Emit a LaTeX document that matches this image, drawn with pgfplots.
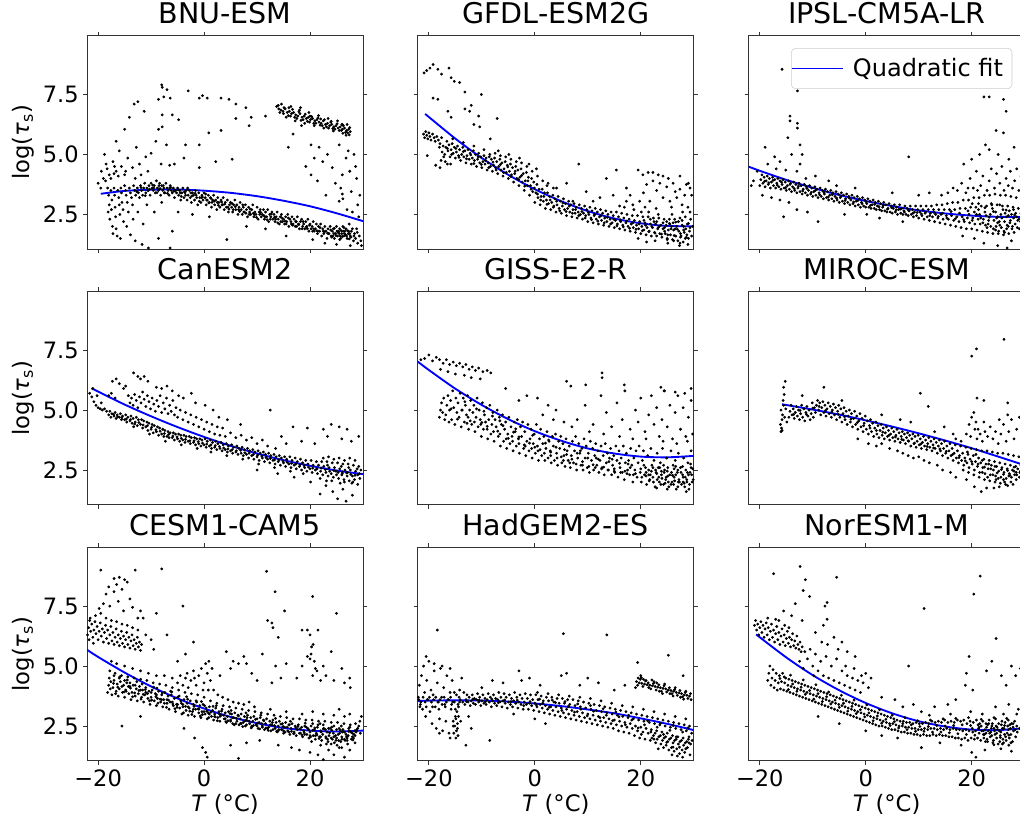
\documentclass[border=0pt]{standalone}
\usepackage{fontspec}
\setmainfont{DejaVu Sans}
\usepackage{pgfplots}
\pgfplotsset{compat=1.18}

\pgfplotsset{
  panel/.style={
    scale only axis, width=207pt, height=160.1pt,
    xmin=-22.1, xmax=30, ymin=1.05, ymax=9.95,
    xtick={-20,0,20}, ytick={2.5,5,7.5},
    xticklabels={}, yticklabels={},
    tick align=outside, major tick length=3pt,
    axis line style={black!80, line width=0.6pt},
    every tick/.style={black!80, line width=0.6pt},
    title style={at={(axis description cs:0.5,1)}, anchor=base, yshift=3pt,
      font=\fontsize{21.4}{25}\selectfont},
    tick label style={font=\fontsize{16.9}{20}\selectfont},
    yticklabel style={inner sep=3pt},
    xticklabel style={inner sep=3.5pt},
    ylabel style={font=\fontsize{17}{20}\selectfont},
    xlabel style={at={(axis description cs:0.5,0)}, anchor=base, yshift=-38pt,
      font=\fontsize{17}{20}\selectfont},
  },
  dots/.style={only marks, mark=*, mark size=0.85pt, mark options={draw=none, fill=black}, forget plot},
  fit/.style={blue, line width=1.4pt, smooth, no markers},
  leftcol/.style={yticklabels={2.5,5.0,7.5}, ylabel={log(\textit{τ}\textsubscript{s})}},
  bottomrow/.style={xticklabels={−20,0,20}, xlabel={\textit{T} (°C)}},
}

\begin{document}
\begin{tikzpicture}

% ---------------- row 1 ----------------
\begin{axis}[panel, leftcol, at={(65.25pt,-26.8pt)}, anchor=north west, title={BNU-ESM}]
\addplot[dots] coordinates {
(-18.2,3.6)(-18.0,3.3)(-17.9,2.9)(-18.1,2.6)(-17.8,2.3)(-17.6,3.5)(-17.4,3.1)(-17.5,2.7)(-17.3,2.0)(-17.2,1.7)(-17.0,3.6)(-16.9,3.3)(-16.8,2.8)(-16.7,2.4)(-16.6,1.9)(-16.4,1.6)(-16.3,3.5)(-16.1,3.2)(-16.0,2.9)(-15.9,2.5)(-15.7,3.6)(-15.6,3.4)(-15.5,3.0)(-15.3,2.7)(-15.2,2.2)(-15.0,3.7)(-14.8,3.5)(-14.7,3.3)(-14.5,3.0)(-14.3,2.6)(-14.1,3.6)(-13.9,3.4)(-13.7,3.2)(-13.5,2.9)(-13.3,3.7)(-13.1,3.5)(-12.9,3.3)(-12.6,3.6)(-12.4,3.4)(-12.2,3.2)(-12.0,3.7)(-11.8,3.5)(-11.6,3.3)(-11.4,3.6)(-11.2,3.8)(-11.0,3.4)(-10.8,3.6)(-10.6,3.5)(-10.4,3.7)(-10.2,3.3)(-10.0,3.8)(-9.8,3.6)(-9.6,3.5)(-9.4,3.7)(-9.2,3.4)(-9.0,3.9)(-8.8,3.6)(-8.6,3.5)(-8.4,3.8)(-8.2,3.3)(-8.0,3.7)(-7.8,3.5)(-7.6,3.6)(-7.4,3.4)(-7.2,3.8)(-7.0,3.6)(-6.8,3.5)(-6.6,3.3)(-6.4,3.7)(-6.2,3.5)(-6.0,3.4)(-5.8,3.6)(-5.6,3.2)(-5.4,3.5)(-5.2,3.4)(-5.0,3.6)(-4.8,3.3)(-4.6,3.5)(-4.4,3.1)(-4.2,3.4)(-4.0,3.6)(-3.8,3.2)(-3.6,3.4)(-3.4,3.5)(-3.2,3.1)(-3.0,3.3)(-2.8,3.5)(-2.6,3.2)(-2.4,3.0)(-2.2,3.4)(-2.0,3.3)(-1.8,3.1)(-1.6,3.5)(-1.4,3.2)(-1.2,2.9)(-1.0,3.4)(-0.8,3.2)(-0.6,3.0)(-0.4,3.3)(-0.2,3.1)(0.0,3.4)(0.2,3.2)(0.4,2.9)(0.6,3.1)(0.8,3.3)(1.0,3.0)(1.2,3.2)(1.4,2.8)(1.6,3.1)(1.8,3.3)(2.0,2.9)(2.2,3.1)(2.4,2.7)(2.6,3.2)(2.8,3.0)(3.0,2.8)(3.2,3.1)(3.4,2.9)(3.6,3.2)(3.8,2.7)(4.0,3.0)(4.2,2.8)(4.4,3.1)(4.6,2.6)(4.8,2.9)(5.0,3.0)(5.2,2.8)(5.4,2.6)(5.6,2.9)(5.8,3.1)(6.0,2.7)(6.2,2.9)(6.4,2.5)(6.6,2.8)(6.8,3.0)(7.0,2.7)(7.2,2.5)(7.4,2.8)(7.6,2.6)(7.8,2.9)(8.0,2.7)(8.2,2.4)(8.4,2.8)(8.6,2.6)(8.8,2.5)(9.0,2.7)(9.2,2.9)(9.4,2.4)(9.6,2.6)(9.8,2.5)(10.0,2.8)(10.2,2.3)(10.4,2.6)(10.6,2.7)(10.8,2.4)(11.0,2.5)(11.2,2.7)(11.4,2.3)(11.6,2.6)(11.8,2.4)(12.0,2.7)(12.2,2.2)(12.4,2.5)(12.6,2.4)(12.8,2.6)(13.0,2.3)(13.2,2.5)(13.4,2.2)(13.6,2.4)(13.8,2.6)(14.0,2.3)(14.2,2.1)(14.4,2.4)(14.6,2.5)(14.8,2.2)(15.0,2.3)(15.2,2.1)(15.4,2.4)(15.6,2.2)(15.8,2.5)(16.0,2.0)(16.2,2.3)(16.4,2.2)(16.6,2.4)(16.8,2.1)(17.0,2.3)(17.2,2.0)(17.4,2.2)(17.6,2.4)(17.8,2.1)(18.0,1.9)(18.2,2.2)(18.4,2.3)(18.6,2.0)(18.8,2.1)(19.0,1.9)(19.2,2.2)(19.4,2.0)(19.6,2.3)(19.8,1.8)(20.0,2.1)(20.2,1.9)(20.4,2.0)(20.6,2.2)(20.8,1.8)(21.0,1.9)(21.2,2.1)(21.4,1.7)(21.6,2.0)(21.8,1.8)(22.0,2.1)(22.2,1.6)(22.4,1.9)(22.6,1.7)(22.8,2.0)(23.0,1.8)(23.2,1.5)(23.4,1.9)(23.6,1.7)(23.8,2.0)(24.0,1.6)(24.2,1.8)(24.4,1.9)(24.6,1.5)(24.8,1.7)(25.0,2.0)(25.2,1.6)(25.4,1.8)(25.6,1.9)(25.8,1.5)(26.0,1.7)(26.2,2.0)(26.4,1.6)(26.6,1.8)(26.8,1.9)(27.0,1.5)(27.2,1.7)(27.4,2.1)(27.6,1.6)(27.8,1.8)(28.0,1.9)(28.2,1.4)(28.4,1.7)(28.6,1.5)(28.8,1.9)(29.0,1.3)(29.3,1.6)(29.6,1.4)
(-10.5,3.5)(-9.5,3.6)(-8.5,3.7)(-7.5,3.4)(-6.5,3.6)(-5.5,3.5)(-4.5,3.4)(-3.5,3.3)(-2.5,3.4)(-1.5,3.3)(-0.5,3.2)(0.5,3.1)(1.5,3.0)(2.5,3.0)(3.5,2.9)(4.5,2.8)(5.5,2.7)(6.5,2.7)(7.5,2.6)(8.5,2.5)(9.5,2.5)(10.5,2.5)(11.5,2.4)(12.5,2.3)(13.5,2.3)(14.5,2.2)(15.5,2.1)(16.5,2.1)(17.5,2.0)(18.5,1.9)(19.5,1.9)(20.5,1.8)(21.5,1.8)(22.5,1.8)(23.5,1.7)(24.5,1.7)(25.5,1.7)(26.5,1.7)(27.5,1.7)(24.3,1.6)(25.7,1.6)(26.3,1.8)(27.3,1.8)(25.1,1.8)(26.9,1.6)
(-12.7,3.45)(-11.9,3.62)(-11.1,3.28)(-10.3,3.55)(-9.7,3.72)(-8.9,3.41)(-8.3,3.58)(-7.7,3.7)(-6.9,3.38)(-6.3,3.63)(-5.7,3.47)(-4.9,3.52)(-4.3,3.25)(-3.7,3.44)(-3.1,3.6)(-2.3,3.27)(-1.7,3.38)(-0.9,3.05)(-0.3,3.22)(0.3,3.35)(0.9,2.98)(1.3,3.17)(1.9,3.05)(2.7,2.88)(3.3,3.02)(3.9,2.93)(4.7,2.72)(5.3,2.95)(5.9,2.82)(6.7,2.62)(7.3,2.9)(7.9,2.55)(8.7,2.72)(9.3,2.55)(9.9,2.38)(10.7,2.58)(11.3,2.45)(11.9,2.28)(12.7,2.52)(13.3,2.38)(13.9,2.15)(14.7,2.35)(15.3,2.22)(15.9,2.35)(16.7,2.05)(17.3,2.2)(17.9,2.08)(18.7,2.2)(19.3,1.98)(19.9,2.05)(20.7,1.9)(21.3,1.82)(21.9,1.95)(22.7,1.78)(23.3,1.72)(23.9,1.85)(24.1,1.55)(24.9,1.62)(25.3,1.75)(25.9,1.82)(26.1,1.58)(26.7,1.65)(27.1,1.82)(27.7,1.55)(28.3,1.6)(28.9,1.75)(24.6,1.92)(25.6,1.45)(26.4,1.95)(27.4,1.48)
(13.7,7.0)(14.1,6.9)(14.5,6.85)(14.9,6.8)(15.3,6.9)(15.7,6.75)(16.1,6.8)(16.5,6.7)(16.9,6.75)(17.3,6.65)(17.7,6.6)(18.1,6.7)(18.5,6.55)(18.9,6.6)(19.3,6.5)(19.7,6.55)(20.1,6.45)(20.5,6.5)(20.9,6.4)(21.3,6.45)(21.7,6.35)(22.1,6.3)(22.5,6.4)(22.9,6.25)(23.3,6.3)(23.7,6.2)(24.1,6.25)(24.5,6.15)(24.9,6.2)(25.3,6.1)(25.7,6.15)(26.1,6.05)(26.5,6.1)(26.9,6.0)(27.3,6.05)(27.6,5.95)(15.0,6.7)(16.3,6.6)(17.5,6.5)(18.7,6.45)(19.9,6.35)(21.1,6.3)(22.3,6.2)(23.5,6.1)(24.7,6.05)(25.9,6.0)(27.1,5.9)
(14.3,6.75)(15.1,6.95)(15.9,6.62)(16.7,6.88)(17.1,6.55)(17.9,6.78)(18.3,6.42)(19.1,6.68)(19.5,6.38)(20.3,6.58)(20.7,6.3)(21.5,6.52)(21.9,6.22)(22.7,6.45)(23.1,6.15)(23.9,6.35)(24.3,6.08)(25.1,6.28)(25.5,6.0)(26.3,6.2)(26.7,5.92)(27.5,6.12)(14.0,7.05)(16.0,6.95)(18.0,6.85)(20.0,6.6)(22.0,6.48)(24.0,6.38)(26.0,6.25)
(14.6,7.1)(15.5,6.55)(16.4,7.0)(17.2,6.4)(18.2,6.95)(19.0,6.3)(19.8,6.75)(20.8,6.2)(21.6,6.62)(22.6,6.1)(23.4,6.5)(24.4,5.98)(25.2,6.4)(26.2,5.88)(27.0,6.25)(27.4,5.82)
(-8.0,7.9)(-7.9,7.8)(-7.0,7.7)(-8.6,7.3)(-7.6,7.4)(-6.4,7.35)(-4.8,6.45)(-7.9,6.65)(-6.0,6.65)(-7.9,6.15)(-8.6,6.05)(-9.1,5.55)(-7.1,5.4)(-10.0,5.05)(-8.1,4.6)(-6.5,4.55)(-5.6,4.6)(-3.0,7.65)(-0.9,7.35)(0.6,7.35)(-0.3,7.45)(3.2,7.35)(4.7,7.3)(6.0,7.1)(7.9,6.95)(8.9,6.55)(8.5,6.2)(6.0,6.5)(3.2,6.0)(0.9,5.9)(-0.9,5.4)(-3.5,5.4)(-3.8,4.85)(-0.9,4.45)(2.2,4.7)(5.3,4.8)(11.6,6.6)(15.9,5.3)(16.8,5.85)(18.4,6.2)(20.2,5.4)(20.8,4.85)(21.7,5.3)(19.2,4.5)(20.2,4.15)(21.4,3.9)(22.4,4.7)(23.3,5.0)(24.2,4.45)(25.5,5.4)(26.1,4.15)(26.8,4.85)(25.8,3.6)(26.1,3.35)(25.5,3.05)(26.2,3.15)(27.8,3.45)(28.8,4.0)(29.0,2.9)(27.2,5.15)(26.8,5.8)(26.1,6.25)(28.3,5.0)(28.6,4.5)(27.5,4.3)(24.8,3.8)(23.0,3.3)(29.4,3.3)(28.0,2.6)(29.2,2.4)(27.0,2.7)
(-18.8,5.0)(-18.5,4.6)(-17.9,4.15)(-17.2,4.7)(-16.6,4.3)(-15.6,4.5)(-15.0,4.15)(-16.0,5.15)(-15.0,6.05)(-14.1,6.55)(-13.2,7.1)(-12.5,7.2)(-11.3,6.8)(-16.6,5.55)(-14.4,4.85)(-13.5,4.45)(-12.2,4.6)(-11.9,4.15)(-19.4,4.3)(-19.0,4.0)(-18.3,4.4)(-17.6,4.0)(-16.9,4.5)(-19.5,3.6)(-18.6,3.9)(-20.0,3.8)(-17.0,4.2)(-16.2,4.1)(-14.8,4.3)(-13.0,4.0)(-12.8,5.3)(-11.0,4.9)(-10.6,4.3)
(-13.9,1.65)(-13.0,1.4)(-11.7,1.25)(-10.5,1.1)(-6.4,1.1)(-8.6,1.5)(-6.0,1.8)(4.3,1.45)(11.6,1.9)(-15.8,1.5)(-14.6,2.0)(-13.4,2.3)(-12.5,2.6)(-11.5,2.1)(-10.8,2.9)(-9.4,2.6)(-8.0,3.0)(-4.9,2.6)(-2.2,2.5)(1.0,2.4)(8.0,2.0)(15.5,1.6)(20.5,1.45)(22.8,1.3)(25.0,1.25)(27.6,1.2)(29.7,1.2)
};
\addplot[fit] coordinates {(-19.5,3.36)(-15,3.48)(-10,3.53)(-5,3.54)(0,3.49)(5,3.40)(10,3.26)(15,3.07)(20,2.84)(25,2.55)(30,2.22)};
\end{axis}

\begin{axis}[panel, at={(313.3pt,-26.8pt)}, anchor=north west, title={GFDL-ESM2G}]
\addplot[dots] coordinates {
(-17.0,5.0)(-16.8,5.3)(-16.6,5.55)(-16.4,5.15)(-16.2,5.4)(-16.0,4.9)(-15.8,5.2)(-15.6,5.45)(-15.4,5.05)(-15.2,5.3)(-15.0,4.85)(-14.8,5.1)(-14.6,5.35)(-14.4,4.95)(-14.2,5.2)(-14.0,4.75)(-13.8,5.0)(-13.6,5.3)(-13.4,4.9)(-13.2,5.15)(-13.0,4.65)(-12.8,4.95)(-12.6,5.2)(-12.4,4.8)(-12.2,5.05)(-12.0,4.6)(-11.8,4.85)(-11.6,5.15)(-11.4,4.75)(-11.2,5.0)(-11.0,4.5)(-10.8,4.8)(-10.6,5.05)(-10.4,4.65)(-10.2,4.9)(-10.0,4.45)(-9.8,4.7)(-9.6,4.95)(-9.4,4.6)(-9.2,4.85)(-9.0,4.35)(-8.8,4.65)(-8.6,4.9)(-8.4,4.5)(-8.2,4.8)(-8.0,4.3)(-7.8,4.55)(-7.6,4.85)(-7.4,4.45)(-7.2,4.7)(-7.0,4.2)(-6.8,4.5)(-6.6,4.8)(-6.4,4.35)(-6.2,4.65)(-6.0,4.1)(-5.8,4.4)(-5.6,4.7)(-5.4,4.25)(-5.2,4.55)(-5.0,4.0)(-4.8,4.3)(-4.6,4.6)(-4.4,4.15)(-4.2,4.45)(-4.0,3.85)(-3.8,4.2)(-3.6,4.5)(-3.4,4.0)(-3.2,4.35)(-3.0,3.7)(-2.8,4.05)(-2.6,4.4)(-2.4,3.85)(-2.2,4.2)(-2.0,3.5)(-1.8,3.9)(-1.6,4.25)(-1.4,3.7)(-1.2,4.05)(-1.0,3.3)(-0.8,3.7)(-0.6,4.0)(-0.4,3.45)(-0.2,3.85)(0.0,3.0)(0.2,3.4)(0.4,3.75)(0.6,3.2)(0.8,3.55)(1.0,2.9)(1.2,3.25)(1.4,3.55)(1.6,3.05)(1.8,3.4)(2.0,2.75)(2.2,3.1)(2.4,3.4)(2.6,2.95)(2.8,3.25)(3.0,2.7)(3.2,3.0)(3.4,3.3)(3.6,2.85)(3.8,3.15)(4.0,2.6)(4.2,2.9)(4.4,3.25)(4.6,2.75)(4.8,3.05)(5.0,2.55)(5.2,2.85)(5.4,3.15)(5.6,2.7)(5.8,2.95)(6.0,2.45)(6.2,2.75)(6.4,3.05)(6.6,2.6)(6.8,2.9)(7.0,2.4)(7.2,2.7)(7.4,2.95)(7.6,2.55)(7.8,2.8)(8.0,2.35)(8.2,2.6)(8.4,2.9)(8.6,2.5)(8.8,2.75)(9.0,2.3)(9.2,2.55)(9.4,2.85)(9.6,2.45)(9.8,2.7)(10.0,2.2)(10.2,2.5)(10.4,2.8)(10.6,2.35)(10.8,2.65)(11.0,2.15)(11.2,2.45)(11.4,2.75)(11.6,2.3)(11.8,2.6)(12.0,2.1)(12.2,2.4)(12.4,2.7)(12.6,2.25)(12.8,2.55)(13.0,2.05)(13.2,2.35)(13.4,2.65)(13.6,2.2)(13.8,2.5)(14.0,2.0)(14.2,2.3)(14.4,2.6)(14.6,2.15)(14.8,2.45)(15.0,1.95)(15.2,2.25)(15.4,2.6)(15.6,2.1)(15.8,2.4)(16.0,1.9)(16.2,2.2)(16.4,2.55)(16.6,2.05)(16.8,2.35)(17.0,1.85)(17.2,2.15)(17.4,2.5)(17.6,2.0)(17.8,2.3)(18.0,1.8)(18.2,2.1)(18.4,2.45)(18.6,1.95)(18.8,2.25)(19.0,1.75)(19.2,2.05)(19.4,2.45)(19.6,1.9)(19.8,2.2)(20.0,1.7)(20.2,2.0)(20.4,2.4)(20.6,1.85)(20.8,2.15)(21.0,1.65)(21.2,1.95)(21.4,2.4)(21.6,1.8)(21.8,2.1)(22.0,1.6)(22.2,1.95)(22.4,2.35)(22.6,1.75)(22.8,2.1)(23.0,1.6)(23.2,1.9)(23.4,2.35)(23.6,1.7)(23.8,2.05)(24.0,1.55)(24.2,1.9)(24.4,2.3)(24.6,1.7)(24.8,2.05)(25.0,1.5)(25.2,1.85)(25.4,2.3)(25.6,1.65)(25.8,2.0)(26.0,1.45)(26.2,1.85)(26.4,2.3)(26.6,1.6)(26.8,2.0)(27.0,1.4)(27.2,1.8)(27.4,2.35)(27.6,1.6)(27.8,2.05)(28.0,1.35)(28.2,1.75)(28.4,2.4)(28.6,1.55)(28.8,2.1)(29.0,1.5)(29.2,1.8)(29.4,2.3)(29.6,1.6)(29.8,2.0)
(-16.5,5.25)(-15.7,5.0)(-14.9,5.25)(-14.3,4.88)(-13.5,5.12)(-12.9,4.82)(-12.1,4.98)(-11.5,4.62)(-10.7,4.9)(-10.1,4.58)(-9.3,4.75)(-8.7,4.45)(-7.9,4.68)(-7.3,4.35)(-6.5,4.58)(-5.9,4.25)(-5.1,4.48)(-4.5,4.08)(-3.7,4.3)(-3.1,3.95)(-2.5,4.12)(-1.9,3.68)(-1.3,3.9)(-0.7,3.55)(-0.1,3.6)(0.5,3.35)(1.1,3.1)(1.7,3.25)(2.3,2.92)(2.9,3.1)(3.5,2.8)(4.1,3.05)(4.7,2.65)(5.3,2.98)(5.9,2.62)(6.5,2.85)(7.1,2.55)(7.7,2.7)(8.3,2.45)(8.9,2.62)(9.5,2.35)(10.1,2.58)(10.7,2.28)(11.3,2.5)(11.9,2.22)(12.5,2.45)(13.1,2.15)(13.7,2.38)(14.3,2.1)(14.9,2.3)(15.5,2.02)(16.1,2.28)(16.7,1.98)(17.3,2.22)(17.9,1.92)(18.5,2.15)(19.1,1.88)(19.7,2.1)(20.3,1.82)(20.9,2.05)(21.5,1.78)(22.1,2.0)(22.7,1.72)(23.3,1.95)(23.9,1.68)(24.5,1.95)(25.1,1.65)(25.7,1.9)(26.3,1.62)(26.9,1.88)(27.5,1.55)(28.1,1.85)(28.7,1.65)(29.3,1.95)(24.2,2.15)(25.4,2.12)(26.6,2.18)(27.8,2.25)(29.0,2.12)(23.0,2.2)(21.8,2.3)(20.6,2.25)(25.0,1.45)(26.2,1.4)(27.4,1.3)(28.4,1.5)
(22.5,2.2)(23.5,2.0)(24.5,1.8)(25.5,2.1)(26.5,1.9)(27.5,1.7)(28.5,1.9)(26.1,2.15)(27.1,2.2)(28.1,2.0)(24.9,2.2)(23.3,2.5)(25.9,2.5)(27.9,2.6)(21.5,2.6)(20.1,2.6)(18.7,2.7)(16.9,2.8)(29.3,2.6)(25.1,1.3)(27.3,1.2)(28.9,1.25)(22.7,1.4)(21.1,1.35)(19.5,1.5)
(-21.0,5.85)(-20.8,5.7)(-20.6,5.95)(-20.4,5.8)(-20.2,5.65)(-20.0,5.9)(-19.8,5.75)(-19.6,5.6)(-19.3,5.85)(-19.0,5.7)(-18.8,5.55)(-18.5,5.75)(-18.2,5.6)(-17.9,5.45)(-17.6,5.7)(-17.3,5.35)(-18.0,5.3)(-17.5,5.1)(-17.2,4.9)(-17.7,4.75)(-16.5,4.6)(-20.3,4.95)(-18.7,4.55)(-17.9,4.45)(-16.9,4.7)(-15.9,4.6)
(-8.5,5.0)(-7.5,5.05)(-6.5,4.95)(-5.5,4.9)(-4.5,4.8)(-3.5,4.7)(-2.5,4.65)(-1.5,4.5)(-0.5,4.3)(0.5,4.1)(1.5,3.9)(-6.9,5.15)(-4.9,5.0)(-2.9,4.85)(-1.1,4.6)(0.3,4.4)(2.3,3.7)(3.5,3.6)(-9.6,5.2)(-11.5,5.35)(-13.5,5.5)(-15.5,5.65)
(-20.4,8.5)(-19.2,8.75)(-18.3,8.55)(-17.6,8.35)(-16.2,8.6)(-15.8,8.2)(-15.2,8.05)(-14.2,8.0)(-13.2,7.6)(-10.1,7.5)(-19.2,7.35)(-18.3,7.3)(-16.4,6.8)(-15.8,6.55)(-13.2,6.9)(-12.0,7.05)(-12.3,6.8)(-10.6,6.6)(-11.5,6.25)(-10.4,6.15)(-7.1,6.5)(-8.4,5.65)(-20.9,8.4)(-19.8,8.6)(8.3,4.6)(13.5,4.0)(15.4,4.35)(17.3,3.6)(19.5,4.35)(20.4,4.15)(21.4,4.25)(22.3,4.25)(23.3,4.15)(24.2,4.1)(25.2,4.0)(22.3,3.9)(21.1,3.75)(23.6,3.8)(24.9,3.65)(26.1,3.8)(27.4,3.55)(28.6,3.75)(29.3,3.6)(28.3,3.3)(26.8,3.2)(25.5,3.05)(24.2,3.2)(21.7,3.05)(19.8,3.05)(18.5,2.9)(17.3,3.05)(16.0,2.85)(14.8,3.3)(12.3,3.2)(11.0,3.05)(9.7,3.45)(6.0,3.8)(4.1,3.6)(2.5,3.8)(7.2,3.05)(27.4,4.1)(29.0,3.8)(29.6,3.3)(26.5,3.45)(23.0,3.5)(20.5,3.4)(18.0,3.3)(27.8,2.9)(25.8,2.8)(22.9,2.75)(20.8,2.8)(28.9,2.8)
};
\addplot[fit] coordinates {(-20.7,6.69)(-15,5.66)(-10,4.85)(-5,4.15)(0,3.55)(5,3.05)(10,2.64)(15,2.33)(20,2.13)(25,2.02)(30,2.01)};
\end{axis}

\begin{axis}[panel, at={(561.5pt,-26.8pt)}, anchor=north west, title={IPSL-CM5A-LR},
  legend style={at={(0.955,0.942)}, anchor=north east, draw=black!20, rounded corners=3pt,
    fill=white, fill opacity=0.8, text opacity=1, font=\fontsize{18}{21}\selectfont,
    inner xsep=0pt, inner ysep=1pt, nodes={inner xsep=6.75pt, inner ysep=6.5pt}},
  legend image code/.code={\draw[#1] (0pt,0pt) -- (38pt,0pt);}]
\addplot[dots] coordinates {
(-20.0,3.7)(-19.8,3.95)(-19.6,4.15)(-19.4,3.8)(-19.2,4.05)(-19.0,3.65)(-18.8,3.9)(-18.6,4.1)(-18.4,3.75)(-18.2,4.0)(-18.0,3.6)(-17.8,3.85)(-17.6,4.05)(-17.4,3.7)(-17.2,3.95)(-17.0,3.6)(-16.8,3.8)(-16.6,4.0)(-16.4,3.65)(-16.2,3.9)(-16.0,3.55)(-15.8,3.75)(-15.6,3.95)(-15.4,3.6)(-15.2,3.85)(-15.0,3.5)(-14.8,3.7)(-14.6,3.9)(-14.4,3.55)(-14.2,3.8)(-14.0,3.45)(-13.8,3.65)(-13.6,3.85)(-13.4,3.5)(-13.2,3.75)(-13.0,3.4)(-12.8,3.6)(-12.6,3.8)(-12.4,3.45)(-12.2,3.7)(-12.0,3.35)(-11.8,3.55)(-11.6,3.75)(-11.4,3.4)(-11.2,3.65)(-11.0,3.3)(-10.8,3.5)(-10.6,3.7)(-10.4,3.35)(-10.2,3.6)(-10.0,3.25)(-9.8,3.45)(-9.6,3.65)(-9.4,3.3)(-9.2,3.55)(-9.0,3.2)(-8.8,3.4)(-8.6,3.6)(-8.4,3.25)(-8.2,3.5)(-8.0,3.15)(-7.8,3.35)(-7.6,3.55)(-7.4,3.2)(-7.2,3.45)(-7.0,3.1)(-6.8,3.3)(-6.6,3.5)(-6.4,3.15)(-6.2,3.4)(-6.0,3.05)(-5.8,3.25)(-5.6,3.45)(-5.4,3.1)(-5.2,3.35)(-5.0,3.0)(-4.8,3.2)(-4.6,3.4)(-4.4,3.05)(-4.2,3.3)(-4.0,2.95)(-3.8,3.15)(-3.6,3.35)(-3.4,3.0)(-3.2,3.25)(-3.0,2.9)(-2.8,3.1)(-2.6,3.3)(-2.4,2.95)(-2.2,3.2)(-2.0,2.85)(-1.8,3.05)(-1.6,3.25)(-1.4,2.9)(-1.2,3.15)(-1.0,2.8)(-0.8,3.0)(-0.6,3.2)(-0.4,2.85)(-0.2,3.1)(0.0,2.8)(0.2,2.95)(0.4,3.15)(0.6,2.8)(0.8,3.05)(1.0,2.75)(1.2,2.9)(1.4,3.1)(1.6,2.75)(1.8,3.0)(2.0,2.7)(2.2,2.85)(2.4,3.05)(2.6,2.7)(2.8,2.95)(3.0,2.65)(3.2,2.8)(3.4,3.0)(3.6,2.65)(3.8,2.9)(4.0,2.6)(4.2,2.75)(4.4,2.95)(4.6,2.6)(4.8,2.85)(5.0,2.55)(5.2,2.75)(5.4,2.9)(5.6,2.6)(5.8,2.8)(6.0,2.5)(6.2,2.7)(6.4,2.9)(6.6,2.55)(6.8,2.75)(7.0,2.5)(7.2,2.65)(7.4,2.85)(7.6,2.5)(7.8,2.75)(8.0,2.45)(8.2,2.65)(8.4,2.85)(8.6,2.5)(8.8,2.7)(9.0,2.4)(9.2,2.6)(9.4,2.85)(9.6,2.45)(9.8,2.7)(10.0,2.35)(10.2,2.6)(10.4,2.85)(10.6,2.45)(10.8,2.7)(11.0,2.3)(11.2,2.55)(11.4,2.85)(11.6,2.4)(11.8,2.7)(12.0,2.25)(12.2,2.55)(12.4,2.85)(12.6,2.4)(12.8,2.7)(13.0,2.2)(13.2,2.5)(13.4,2.9)(13.6,2.35)(13.8,2.7)(14.0,2.15)(14.2,2.5)(14.4,2.9)(14.6,2.3)(14.8,2.7)(15.0,2.1)(15.2,2.45)(15.4,2.95)(15.6,2.3)(15.8,2.7)(16.0,2.05)(16.2,2.45)(16.4,3.0)(16.6,2.25)(16.8,2.7)(17.0,2.0)(17.2,2.4)(17.4,3.0)(17.6,2.2)(17.8,2.75)(18.0,1.95)(18.2,2.4)(18.4,3.1)(18.6,2.2)(18.8,2.75)(19.0,1.9)(19.2,2.35)(19.4,3.1)(19.6,2.15)(19.8,2.8)(20.0,1.9)(20.2,2.35)(20.4,3.2)(20.6,2.1)(20.8,2.8)(21.0,1.85)(21.2,2.3)(21.4,3.2)(21.6,2.1)(21.8,2.85)(22.0,1.8)(22.2,2.3)(22.4,3.3)(22.6,2.05)(22.8,2.85)(23.0,1.75)(23.2,2.25)(23.4,3.3)(23.6,2.0)(23.8,2.9)(24.0,1.7)(24.2,2.25)(24.4,3.35)(24.6,2.0)(24.8,2.9)(25.0,1.7)(25.2,2.2)(25.4,3.3)(25.6,1.95)(25.8,2.85)(26.0,1.65)(26.2,2.2)(26.4,3.3)(26.6,1.9)(26.8,2.85)(27.0,1.7)(27.2,2.15)(27.4,3.25)(27.6,1.9)(27.8,2.8)(28.0,1.75)(28.2,2.1)(28.4,3.2)(28.6,1.95)(28.8,2.75)(29.0,1.9)(29.2,2.2)(29.4,3.0)(29.6,2.0)(29.8,2.6)
(-19.1,3.88)(-18.3,3.82)(-17.5,3.92)(-16.7,3.72)(-15.9,3.85)(-15.1,3.62)(-14.3,3.75)(-13.5,3.58)(-12.7,3.68)(-11.9,3.48)(-11.1,3.58)(-10.3,3.42)(-9.5,3.5)(-8.7,3.32)(-7.9,3.42)(-7.1,3.22)(-6.3,3.32)(-5.5,3.18)(-4.7,3.25)(-3.9,3.08)(-3.1,3.18)(-2.3,3.02)(-1.5,3.08)(-0.7,2.95)(0.1,3.02)(0.9,2.88)(1.7,2.92)(2.5,2.82)(3.3,2.88)(4.1,2.72)(4.9,2.78)(5.7,2.68)(6.5,2.72)(7.3,2.6)(8.1,2.66)(8.9,2.55)(9.7,2.58)(10.5,2.52)(11.3,2.6)(12.1,2.45)(12.9,2.58)(13.7,2.42)(14.5,2.55)(15.3,2.35)(16.1,2.62)(16.9,2.32)(17.7,2.55)(18.5,2.28)(19.3,2.65)(20.1,2.25)(20.9,2.5)(21.7,2.35)(22.5,2.78)(23.3,2.38)(24.1,2.62)(24.9,2.15)(25.7,2.35)(26.5,2.68)(27.3,2.25)(28.1,2.48)(28.9,2.3)(22.1,2.15)(23.7,2.95)(25.3,2.9)(26.9,2.0)(27.9,2.7)(29.3,2.55)(21.3,2.95)(24.5,1.85)(26.2,1.75)(22.9,1.95)
(19.5,2.5)(20.5,2.6)(21.5,2.5)(22.5,2.6)(23.5,2.5)(24.5,2.6)(25.5,2.5)(26.5,2.4)(27.5,2.5)(28.5,2.4)(20.1,2.95)(21.3,2.7)(22.7,2.45)(23.9,2.75)(24.9,2.4)(25.9,2.7)(26.3,2.55)(27.1,2.65)(27.9,2.35)(28.3,2.55)(23.1,2.1)(24.1,1.9)(25.3,2.05)(26.7,2.05)(27.7,2.0)(28.7,2.25)(26.1,1.8)(25.1,1.8)(24.7,2.35)(26.9,2.45)
(17.3,3.5)(18.1,3.8)(18.9,3.4)(19.7,4.0)(20.3,3.6)(20.9,4.3)(21.7,3.7)(22.1,4.1)(22.9,3.5)(23.3,3.9)(23.7,4.4)(24.3,3.6)(24.7,4.2)(25.3,3.8)(25.7,4.5)(26.1,3.5)(26.5,4.0)(26.9,3.7)(27.3,4.3)(27.7,3.6)(28.1,3.9)(28.5,4.4)(28.9,3.5)(29.3,4.1)(29.7,3.7)(21.1,3.5)(19.3,3.6)(16.5,3.6)(15.5,3.4)(14.3,3.3)
(22.3,1.3)(24.9,1.2)(26.7,1.1)(20.5,1.5)(18.3,1.6)(27.5,1.4)
(-15.8,8.55)(-12.9,7.65)(-14.3,6.6)(-14.3,6.4)(-12.9,6.3)(-12.9,6.1)(-14.7,5.7)(-12.4,5.4)(-12.0,5.0)(22.3,7.4)(23.3,7.4)(26.0,7.3)(26.5,6.8)(24.6,6.0)(26.0,5.9)(22.6,5.4)(23.3,5.2)(8.1,4.9)(-21.2,3.9)(-21.6,3.7)(-19.5,3.3)(-20.5,4.3)(-16.9,4.4)(-16.2,4.7)(-15.1,4.35)(-13.0,4.3)(-11.3,4.0)(-9.5,4.1)(-7.0,3.9)(-5.5,3.7)(-17.8,3.2)(-16.2,3.1)(-14.5,3.0)(-13.0,2.7)(-11.0,2.6)(-15.5,2.4)(-9.0,2.2)(-4.0,2.5)(0.2,2.5)(2.6,2.35)(7.0,2.2)(-12.4,4.6)(-14.0,5.0)(-18.5,4.6)(-17.2,4.9)(-19.0,5.3)(20.0,4.8)(21.5,5.0)(25.0,5.0)(27.0,4.8)(28.0,5.3)(18.5,4.6)(5.0,3.4)(10.0,3.3)(12.0,3.4)(-2.0,3.6)
};
\addplot[fit] coordinates {(-22.1,4.49)(-20,4.32)(-15,3.94)(-10,3.61)(-5,3.31)(0,3.06)(5,2.85)(10,2.67)(15,2.54)(20,2.45)(25,2.40)(30,2.39)};
\addlegendentry{Quadratic fit}
\end{axis}

% ---------------- row 2 ----------------
\begin{axis}[panel, leftcol, at={(65.25pt,-218.5pt)}, anchor=north west, title={CanESM2}]
\addplot[dots] coordinates {
(-21.6,5.7)(-21.2,5.55)(-20.8,5.35)(-20.4,5.2)(-20.0,5.1)(-19.6,5.05)(-19.2,5.0)(-18.8,5.05)(-18.4,4.95)(-21.0,5.9)(-20.2,5.6)(-19.4,5.3)
(-18.0,4.8)(-17.8,4.95)(-17.6,4.7)(-17.4,4.85)(-17.0,4.75)(-16.8,4.9)(-16.6,4.65)(-16.4,4.8)(-16.0,4.7)(-15.8,4.85)(-15.6,4.6)(-15.4,4.75)(-15.0,4.6)(-14.8,4.8)(-14.6,4.5)(-14.4,4.7)(-14.0,4.55)(-13.8,4.75)(-13.6,4.45)(-13.4,4.65)(-13.0,4.5)(-12.8,4.7)(-12.6,4.35)(-12.4,4.6)(-12.0,4.4)(-11.8,4.6)(-11.6,4.25)(-11.4,4.55)(-11.0,4.3)(-10.8,4.5)(-10.6,4.15)(-10.4,4.45)(-10.0,4.2)(-9.8,4.4)(-9.6,4.05)(-9.4,4.35)(-9.0,4.1)(-8.8,4.3)(-8.6,3.95)(-8.4,4.25)(-8.0,4.0)(-7.8,4.2)(-7.6,3.9)(-7.4,4.15)(-7.0,3.9)(-6.8,4.1)(-6.6,3.85)(-6.4,4.05)(-6.0,3.85)(-5.8,4.05)(-5.6,3.75)(-5.4,4.0)(-5.0,3.8)(-4.8,4.0)(-4.6,3.7)(-4.4,3.95)(-4.0,3.75)(-3.8,3.95)(-3.6,3.65)(-3.4,3.9)(-3.0,3.7)(-2.8,3.9)(-2.6,3.6)(-2.4,3.85)(-2.0,3.65)(-1.8,3.85)(-1.6,3.55)(-1.4,3.8)(-1.0,3.6)(-0.8,3.8)(-0.6,3.5)(-0.4,3.75)(0.0,3.55)(0.2,3.8)(0.4,3.45)(0.6,3.7)(1.0,3.5)(1.2,3.75)(1.4,3.4)(1.6,3.65)(2.0,3.45)(2.2,3.7)(2.4,3.35)(2.6,3.6)(3.0,3.4)(3.2,3.65)(3.4,3.3)(3.6,3.55)(4.0,3.35)(4.2,3.6)(4.4,3.25)(4.6,3.5)(5.0,3.3)(5.2,3.55)(5.4,3.2)(5.6,3.45)(6.0,3.25)(6.2,3.5)(6.4,3.15)(6.6,3.4)(7.0,3.2)(7.2,3.45)(7.4,3.1)(7.6,3.35)(8.0,3.15)(8.2,3.4)(8.4,3.0)(8.6,3.3)(9.0,3.1)(9.2,3.35)(9.4,2.95)(9.6,3.25)(10.0,3.05)(10.2,3.3)(10.4,2.9)(10.6,3.2)(11.0,3.0)(11.2,3.25)(11.4,2.85)(11.6,3.15)(12.0,2.95)(12.2,3.2)(12.4,2.8)(12.6,3.1)(13.0,2.9)(13.2,3.15)(13.4,2.75)(13.6,3.05)(14.0,2.85)(14.2,3.1)(14.4,2.7)(14.6,3.0)(15.0,2.8)(15.2,3.05)(15.4,2.65)(15.6,2.95)(16.0,2.75)(16.2,3.05)(16.4,2.6)(16.6,2.9)(17.0,2.7)(17.2,3.0)(17.4,2.55)(17.6,2.85)(18.0,2.65)(18.2,2.95)(18.4,2.5)(18.6,2.8)(19.0,2.6)(19.2,2.9)(19.4,2.45)(19.6,2.75)(20.0,2.55)(20.2,2.9)(20.4,2.4)(20.6,2.7)(21.0,2.5)(21.2,2.85)(21.4,2.35)(21.6,2.7)(22.0,2.45)(22.2,2.85)(22.4,2.3)(22.6,2.65)(23.0,2.4)(23.2,2.85)(23.4,2.25)(23.6,2.6)(24.0,2.35)(24.2,2.8)(24.4,2.2)(24.6,2.6)(25.0,2.3)(25.2,2.8)(25.4,2.15)(25.6,2.55)(26.0,2.3)(26.2,2.75)(26.4,2.1)(26.6,2.5)(27.0,2.25)(27.2,2.75)(27.4,2.05)(27.6,2.5)(28.0,2.25)(28.2,2.7)(28.4,2.1)(28.6,2.45)(29.0,2.3)(29.2,2.65)(29.4,2.15)(29.6,2.5)
(-17.1,4.82)(-16.3,4.72)(-15.5,4.68)(-14.7,4.62)(-13.9,4.6)(-13.1,4.42)(-12.3,4.48)(-11.5,4.38)(-10.7,4.35)(-9.9,4.28)(-9.1,4.18)(-8.3,4.12)(-7.5,4.02)(-6.7,3.98)(-5.9,3.92)(-5.1,3.88)(-4.3,3.82)(-3.5,3.78)(-2.7,3.72)(-1.9,3.72)(-1.1,3.68)(-0.3,3.62)(0.5,3.58)(1.3,3.55)(2.1,3.52)(2.9,3.48)(3.7,3.42)(4.5,3.38)(5.3,3.35)(6.1,3.3)(6.9,3.32)(7.7,3.22)(8.5,3.2)(9.3,3.15)(10.1,3.12)(10.9,3.08)(11.7,3.02)(12.5,2.98)(13.3,2.92)(14.1,2.92)(14.9,2.88)(15.7,2.82)(16.5,2.78)(17.3,2.75)(18.1,2.72)(18.9,2.68)(19.7,2.62)(20.5,2.58)(21.3,2.55)(22.1,2.58)(22.9,2.52)(23.7,2.45)(24.5,2.48)(25.3,2.4)(26.1,2.42)(26.9,2.38)(27.7,2.32)(28.5,2.28)(29.3,2.35)(23.3,2.7)(25.9,2.65)(27.3,2.6)(28.9,2.55)(24.1,2.05)(26.5,2.0)(27.9,1.95)
(22.5,3.0)(23.5,3.05)(24.5,2.95)(25.5,3.0)(26.5,2.9)(27.5,3.0)(28.5,2.9)(24.9,2.45)(26.1,2.35)(27.1,2.4)(28.1,2.0)(25.7,1.95)(23.1,2.05)(21.9,2.15)(18.7,2.35)(16.3,2.45)(13.3,2.6)(10.3,2.75)(7.3,2.95)(4.3,3.1)(1.3,3.25)(-1.3,3.4)(-4.3,3.55)(-7.3,3.7)(-10.3,4.0)(-13.3,4.3)
(-14.3,5.6)(-14.0,5.3)(-13.7,5.5)(-13.4,5.2)(-13.1,5.65)(-12.8,5.4)(-12.5,5.1)(-12.2,5.55)(-11.9,5.3)(-11.6,5.75)(-11.3,5.45)(-11.0,5.15)(-10.7,5.6)(-10.4,5.35)(-10.1,5.05)(-9.8,5.5)(-9.5,5.25)(-9.2,4.95)(-8.9,5.4)(-8.6,5.15)(-8.3,5.6)(-8.0,4.9)(-7.7,5.3)(-7.4,5.05)(-7.1,5.5)(-6.8,4.85)(-6.5,5.2)(-6.2,4.95)(-5.9,5.4)(-5.6,4.8)(-5.3,5.1)(-5.0,4.7)(-4.5,5.0)(-4.0,4.6)(-3.5,4.9)(-3.0,4.5)(-2.5,4.8)(-2.0,4.4)(-1.5,4.7)(-1.0,4.3)(-0.5,4.6)(0.0,4.2)(0.5,4.5)(1.0,4.1)(1.5,4.4)(2.0,4.0)(2.5,4.3)(3.0,3.95)(3.5,4.25)(4.0,3.9)(5.0,4.05)(6.0,3.85)(7.0,3.95)(8.0,3.75)(9.0,3.85)(10.0,3.6)(11.0,3.75)(12.0,3.5)
(-17.3,6.2)(-16.6,6.3)(-16.0,6.1)(-15.2,5.9)(-14.8,6.0)(-13.3,6.55)(-12.5,6.4)(-12.0,6.3)(-11.3,6.4)(-10.6,6.2)(-9.0,5.95)(-8.0,5.9)(-7.0,6.0)(-6.0,5.8)(-4.8,5.6)(-3.9,5.5)(-2.4,5.7)(-1.6,5.3)(0.2,5.2)(1.7,5.0)(2.8,4.7)(4.4,4.6)(6.9,4.4)(12.5,5.0)(16.8,4.3)(19.5,4.25)(22.5,4.2)(24.0,4.4)(25.5,4.3)(27.0,4.2)(27.8,3.7)(29.2,3.9)(23.3,3.9)(26.0,3.8)(20.9,3.6)(18.4,3.7)(14.6,3.9)(15.5,3.6)(13.5,3.4)(-17.5,5.7)(-16.8,5.5)(-18.0,5.6)
(21.9,1.5)(24.3,1.6)(25.2,1.3)(26.8,1.2)(28.0,1.45)(23.0,1.85)(26.2,1.7)(29.0,1.9)(20.1,2.0)(17.0,2.2)(13.9,2.35)(10.0,2.5)
};
\addplot[fit] coordinates {(-21.25,5.91)(-20,5.77)(-15,5.23)(-10,4.74)(-5,4.29)(0,3.88)(5,3.51)(10,3.19)(15,2.91)(20,2.68)(25,2.48)(30,2.33)};
\end{axis}

\begin{axis}[panel, at={(313.3pt,-218.5pt)}, anchor=north west, title={GISS-E2-R}]
\addplot[dots] coordinates {
(-21.5,7.1)(-20.8,7.15)(-20.0,7.3)(-19.3,7.05)(-18.6,7.2)(-18.0,7.1)(-17.3,6.95)(-16.7,7.1)(-16.1,6.9)(-15.4,7.0)(-14.8,6.85)(-14.2,6.95)(-13.6,6.8)(-13.0,6.9)(-12.4,6.7)(-11.8,6.8)(-11.2,6.65)(-10.6,6.75)(-9.8,6.6)(-9.0,6.65)(-8.3,6.55)(-17.8,6.7)(-16.4,6.6)(-15.0,6.5)(-13.3,6.45)(-12.0,6.35)(-10.3,6.3)
(-18.0,4.7)(-17.8,5.0)(-17.6,5.3)(-17.4,4.9)(-17.2,5.5)(-17.0,4.6)(-16.8,4.8)(-16.6,5.2)(-16.4,5.6)(-16.2,4.5)(-16.1,5.0)(-15.9,5.4)(-15.7,4.6)(-15.5,5.8)(-15.3,5.1)(-15.1,4.4)(-14.9,5.5)(-14.7,4.9)(-14.5,5.3)(-14.3,4.7)(-14.1,5.7)(-13.9,4.3)(-13.7,5.0)(-13.5,5.5)(-13.3,4.5)(-13.1,5.2)(-12.9,4.8)(-12.7,5.6)(-12.5,4.2)(-12.3,5.0)(-12.1,5.4)(-11.9,4.4)(-11.7,4.9)(-11.5,5.2)(-11.3,4.1)(-11.1,4.7)(-10.9,5.5)(-10.7,4.3)(-10.5,5.0)(-10.3,4.6)(-10.1,3.9)(-9.9,5.3)(-9.7,4.2)(-9.5,4.8)(-9.3,4.5)(-9.1,5.1)(-8.9,3.8)(-8.7,4.6)(-8.5,5.2)(-8.3,4.0)(-8.1,4.4)(-7.9,4.9)(-7.7,3.7)(-7.5,4.6)(-7.3,4.3)(-7.1,5.0)(-6.9,3.9)(-6.7,4.7)(-6.5,3.5)(-6.3,4.4)(-6.1,4.8)(-5.9,3.7)(-5.7,4.2)(-5.5,4.5)(-5.3,3.4)(-5.1,4.0)(-4.9,4.7)(-4.7,3.6)(-4.5,4.3)(-4.3,3.9)(-4.1,3.3)(-3.9,4.5)(-3.7,4.1)(-3.5,3.5)(-3.3,4.6)(-3.1,3.8)(-2.9,3.2)(-2.7,4.3)(-2.5,3.9)(-2.3,4.5)(-2.1,3.4)(-1.9,4.1)(-1.7,3.1)(-1.5,3.7)(-1.3,4.4)(-1.1,3.3)(-0.9,3.8)(-0.7,4.2)(-0.5,3.0)(-0.3,3.6)(-0.1,4.0)(0.1,3.2)(0.3,4.4)(0.5,3.5)(0.7,2.9)(0.9,3.8)(1.1,4.2)(1.3,3.1)(1.5,3.6)(1.7,3.9)(1.9,2.9)(2.1,3.4)(2.3,4.1)(2.5,3.0)(2.7,3.7)(2.9,3.3)(3.1,2.8)(3.3,3.9)(3.5,3.5)(3.7,2.9)(3.9,4.0)(4.1,3.2)(4.3,2.7)(4.5,3.7)(4.7,3.4)(4.9,3.9)(5.1,2.8)(5.3,3.6)(5.5,3.1)(5.7,2.65)(5.9,3.8)(6.1,3.3)(6.3,2.9)(6.5,3.5)(6.7,2.6)(6.9,3.1)(7.1,3.7)(7.3,2.8)(7.5,3.3)(7.7,3.9)(7.9,2.5)(8.1,3.0)(8.3,3.6)(8.5,3.2)(8.7,2.7)(8.9,3.4)(9.1,2.5)(9.3,3.8)(9.5,3.0)(9.7,3.5)(9.9,2.6)(10.1,3.2)(10.3,2.4)(10.5,3.7)(10.7,2.9)(10.9,3.4)(11.1,2.5)(11.3,3.1)(11.5,3.6)(11.7,2.7)(11.9,3.3)(12.1,2.4)(12.3,2.9)(12.5,3.5)(12.7,2.6)(12.9,3.1)(13.1,2.3)(13.3,3.6)(13.5,2.8)(13.7,3.2)(13.9,2.5)(14.1,3.0)(14.3,3.4)(14.5,2.3)(14.7,2.7)(14.9,3.1)(15.1,2.4)(15.3,3.5)(15.5,2.9)(15.7,2.2)(15.9,3.3)(16.1,2.6)(16.3,3.0)(16.5,2.4)(16.7,3.5)(16.9,2.1)(17.1,2.8)(17.3,3.2)(17.5,2.5)(17.7,2.9)(17.9,2.3)(18.1,3.4)(18.3,2.7)(18.5,2.0)(18.7,3.0)(18.9,2.5)(19.1,3.3)(19.3,2.2)(19.5,2.8)(19.7,3.5)(19.9,2.4)(20.1,2.0)(20.3,2.9)(20.5,3.3)(20.7,2.3)(20.9,2.6)(21.1,1.9)(21.3,3.1)(21.5,2.5)(21.7,2.1)(21.9,3.4)(22.1,2.7)(22.3,2.2)(22.5,2.9)(22.7,1.8)(22.9,2.4)(23.1,3.2)(23.3,2.6)(23.5,2.0)(23.7,2.8)(23.9,2.3)(24.1,3.4)(24.3,1.9)(24.5,2.5)(24.7,2.1)(24.9,3.0)(25.1,2.6)(25.3,1.8)(25.5,2.3)(25.7,3.3)(25.9,2.0)(26.1,2.7)(26.3,2.2)(26.5,2.9)(26.7,1.7)(26.9,2.4)(27.1,3.2)(27.3,2.0)(27.5,2.6)(27.7,1.9)(27.9,2.3)(28.1,3.0)(28.3,1.8)(28.5,2.5)(28.7,2.1)(28.9,2.8)(29.1,1.7)(29.3,2.4)(29.5,3.3)(29.7,2.0)
(-15.8,5.05)(-14.6,4.62)(-13.2,5.35)(-12.2,4.55)(-11.0,5.05)(-10.0,4.48)(-9.0,4.32)(-8.0,4.75)(-7.0,4.12)(-6.0,4.35)(-5.0,3.82)(-4.0,4.08)(-3.0,3.88)(-2.0,3.55)(-1.0,3.62)(0.0,3.45)(1.0,3.35)(2.0,3.62)(3.0,3.25)(4.0,3.45)(5.0,3.05)(6.0,3.15)(7.0,2.95)(8.0,3.2)(9.0,2.85)(10.0,3.0)(11.0,2.72)(12.0,2.95)(13.0,2.62)(14.0,2.85)(15.0,2.55)(16.0,2.78)(17.0,2.45)(18.0,2.6)(19.0,2.35)(20.0,2.55)(21.0,2.25)(22.0,2.45)(23.0,2.35)(24.0,2.15)(25.0,2.45)(26.0,2.28)(27.0,2.5)(28.0,2.2)(29.0,2.3)(29.8,2.55)(24.6,1.95)(26.4,2.05)(28.2,1.95)(21.6,2.05)(-12.8,4.45)(-9.6,4.95)(-6.6,4.55)(-3.6,4.22)(-0.4,3.95)(2.6,3.75)(5.6,3.35)(8.6,3.3)(11.6,3.0)(14.6,2.95)(17.6,2.75)(20.6,2.7)(23.6,2.6)(26.6,2.65)(29.4,2.75)
(22.3,2.6)(23.1,2.1)(24.3,2.7)(25.1,2.25)(26.3,2.55)(27.1,2.0)(27.9,2.65)(28.7,2.0)(29.5,2.6)(25.7,1.9)(23.9,2.45)(21.5,2.3)
(20.2,2.2)(21.0,2.4)(21.8,2.3)(22.4,2.0)(22.8,2.5)(23.4,2.2)(23.8,1.9)(24.4,2.4)(24.8,2.2)(25.2,2.0)(25.8,2.4)(26.2,1.9)(26.6,2.3)(27.2,2.1)(27.6,2.4)(28.0,2.0)(28.4,2.2)(28.8,2.4)(29.2,1.9)(29.6,2.3)(29.9,2.1)(27.0,1.8)(25.0,1.7)(23.0,1.75)(28.6,1.6)
(-13.8,5.0)(-12.6,4.7)(-11.4,4.5)(-10.2,4.4)(-9.0,4.2)(-7.8,4.1)(-6.6,4.0)(-5.4,3.8)(-4.2,3.7)(-3.0,3.6)(-1.8,3.5)(-0.6,3.4)(0.6,3.3)(1.8,3.2)(3.0,3.1)(4.2,3.0)(5.4,2.9)(6.6,2.8)(7.8,2.75)(9.0,2.7)(10.2,2.65)(11.4,2.6)(12.6,2.55)(13.8,2.5)(15.0,2.45)(16.2,2.4)(17.4,2.35)(18.6,2.3)
(6.0,6.2)(6.8,6.0)(4.0,5.0)(2.5,5.2)(0.5,5.5)(-1.5,5.6)(-5.5,5.9)(-3.0,5.4)(1.5,4.8)(3.5,4.6)(5.5,4.5)(8.0,4.6)(9.5,5.2)(11.0,4.4)(12.5,5.6)(13.5,4.9)(14.5,4.3)(15.5,5.3)(16.5,4.6)(17.0,5.8)(18.0,4.2)(19.0,5.0)(19.5,4.5)(20.0,5.5)(20.8,4.1)(21.5,4.8)(22.0,5.6)(22.5,4.4)(23.0,5.1)(23.5,3.9)(24.0,4.6)(24.5,5.8)(25.0,4.3)(25.5,5.2)(26.0,3.8)(26.5,4.9)(27.0,5.6)(27.5,4.2)(28.0,5.1)(28.5,3.9)(29.0,4.7)(29.5,5.4)(29.8,4.0)(10.3,4.1)(7.0,4.3)(18.5,3.8)(21.0,3.8)(24.2,3.7)(26.8,3.6)(28.8,3.7)(16.0,3.9)(13.0,4.0)
(12.7,6.55)(12.7,6.35)(9.6,6.05)(16.9,6.05)(23.8,5.95)(24.4,5.8)(26.5,5.75)(28.3,5.7)(29.5,5.9)
};
\addplot[fit] coordinates {(-22.1,7.02)(-20,6.67)(-15,5.89)(-10,5.21)(-5,4.62)(0,4.12)(5,3.72)(10,3.40)(15,3.19)(20,3.06)(25,3.03)(30,3.09)};
\end{axis}

\begin{axis}[panel, at={(561.5pt,-218.5pt)}, anchor=north west, title={MIROC-ESM}]
\addplot[dots] coordinates {
(-16.0,4.1)(-15.9,4.25)(-16.1,4.4)(-15.8,4.6)(-15.7,4.8)(-16.0,5.0)(-15.5,5.2)(-15.6,5.4)(-15.4,5.65)(-15.5,5.95)(-15.2,6.2)(-15.8,4.15)(-15.3,4.7)(-15.1,5.05)(-14.9,4.5)
(-14.5,4.7)(-14.3,4.95)(-14.1,5.2)(-13.9,4.8)(-13.7,5.05)(-13.5,4.65)(-13.3,4.9)(-13.1,5.15)(-12.9,4.75)(-12.7,5.0)(-12.5,4.6)(-12.3,4.85)(-12.1,5.2)(-11.9,4.7)(-11.7,5.05)(-11.5,4.55)(-11.3,4.9)(-11.1,5.15)(-10.9,4.75)(-10.7,5.0)(-10.5,4.6)(-10.3,4.85)(-10.1,5.3)(-9.9,4.7)(-9.7,5.1)(-9.5,4.9)(-9.3,5.2)(-9.1,5.4)(-8.9,5.0)(-8.7,5.3)(-8.5,4.8)(-8.3,5.1)(-8.1,5.35)(-7.9,4.9)(-7.7,5.2)(-7.5,4.75)(-7.3,5.05)(-7.1,5.3)(-6.9,4.85)(-6.7,5.15)(-6.5,4.7)(-6.3,5.0)(-6.1,5.25)(-5.9,4.8)(-5.7,5.1)(-5.5,4.6)(-5.3,4.95)(-5.1,5.2)(-4.9,4.7)(-4.7,5.05)(-4.5,4.5)(-4.3,4.85)(-4.1,5.1)(-3.9,4.6)(-3.7,4.95)(-3.5,4.4)(-3.3,4.75)(-3.1,5.0)(-2.9,4.5)(-2.7,4.85)(-2.5,4.3)(-2.3,4.65)(-2.1,4.95)(-1.9,4.4)(-1.7,4.75)(-1.5,4.2)(-1.3,4.55)(-1.1,4.85)(-0.9,4.3)(-0.7,4.65)(-0.5,4.1)(-0.3,4.45)(-0.1,4.75)(0.1,4.2)(0.3,4.55)(0.5,4.0)(0.7,4.35)(0.9,4.6)(1.1,4.1)(1.3,4.45)(1.5,3.9)(1.7,4.25)(1.9,4.5)(2.1,4.0)(2.3,4.35)(2.5,3.85)(2.7,4.15)(2.9,4.4)(3.1,3.95)(3.3,4.25)(3.5,3.8)(3.7,4.05)(3.9,4.3)(4.1,3.9)(4.3,4.15)(4.5,3.75)(4.7,4.0)(4.9,4.25)(5.1,3.85)(5.3,4.1)(5.5,3.7)(5.7,3.95)(5.9,4.2)(6.1,3.8)(6.3,4.05)(6.5,3.65)(6.7,3.9)(6.9,4.1)(7.1,3.75)(7.3,4.0)(7.5,3.6)(7.7,3.85)(7.9,4.05)(8.1,3.7)(8.3,3.95)(8.5,3.5)(8.7,3.8)(8.9,4.0)(9.1,3.6)(9.3,3.9)(9.5,3.45)(9.7,3.7)(9.9,3.95)(10.1,3.55)(10.3,3.8)(10.5,3.4)(10.7,3.65)(10.9,3.9)(11.1,3.5)(11.3,3.75)(11.5,3.35)(11.7,3.6)(11.9,3.85)(12.1,3.45)(12.3,3.7)(12.5,3.3)(12.7,3.55)(12.9,3.8)(13.1,3.4)(13.3,3.65)(13.5,3.2)(13.7,3.5)(13.9,3.75)(14.1,3.3)(14.3,3.6)(14.5,3.1)(14.7,3.4)(14.9,3.7)(15.1,3.2)(15.3,3.5)(15.5,3.0)(15.7,3.3)(15.9,3.6)(16.1,3.1)(16.3,3.4)(16.5,2.9)(16.7,3.2)(16.9,3.55)(17.1,3.0)(17.3,3.3)(17.5,2.8)(17.7,3.1)(17.9,3.5)(18.1,2.9)(18.3,3.2)(18.5,2.7)(18.7,3.0)(18.9,3.45)(19.1,2.8)(19.3,3.15)(19.5,2.6)(19.7,2.95)(19.9,3.4)(20.1,2.75)(20.3,3.1)(20.5,2.5)(20.7,2.85)(20.9,3.35)(21.1,2.65)(21.3,3.0)(21.5,2.4)(21.7,2.8)(21.9,3.3)(22.1,2.6)(22.3,2.95)(22.5,2.35)(22.7,2.75)(22.9,3.3)(23.1,2.55)(23.3,2.9)(23.5,2.3)(23.7,2.7)(23.9,3.25)(24.1,2.5)(24.3,2.85)(24.5,2.25)(24.7,2.65)(24.9,3.2)(25.1,2.45)(25.3,2.8)(25.5,2.2)(25.7,2.6)(25.9,3.2)(26.1,2.4)(26.3,2.75)(26.5,2.15)(26.7,2.55)(26.9,3.15)(27.1,2.35)(27.3,2.7)(27.5,2.2)(27.7,2.5)(27.9,3.1)(28.1,2.3)(28.3,2.65)(28.5,2.3)(28.7,2.55)(28.9,3.05)(29.1,2.4)(29.3,2.7)
(-13.6,4.82)(-12.4,4.98)(-11.2,4.82)(-10.0,5.08)(-8.8,5.15)(-7.6,4.98)(-6.4,4.92)(-5.2,4.82)(-4.0,4.72)(-2.8,4.62)(-1.6,4.48)(-0.4,4.35)(0.8,4.25)(2.0,4.15)(3.2,4.08)(4.4,3.95)(5.6,3.88)(6.8,3.78)(8.0,3.72)(9.2,3.62)(10.4,3.58)(11.6,3.48)(12.8,3.42)(14.0,3.38)(15.2,3.28)(16.4,3.15)(17.6,3.02)(18.8,2.88)(20.0,2.85)(21.2,2.75)(22.4,2.62)(23.6,2.55)(24.8,2.38)(26.0,2.32)(27.2,2.28)(28.4,2.4)(29.6,2.2)(19.2,3.25)(20.8,3.15)(22.0,2.9)(23.2,2.75)(24.4,2.65)(25.6,2.52)(26.8,2.48)(28.0,2.62)(29.2,2.45)(24.6,2.1)(26.2,2.0)(27.8,1.9)
(18.4,2.5)(19.4,2.4)(20.4,2.3)(21.4,2.2)(22.4,2.1)(23.4,2.05)(24.4,2.0)(25.4,1.95)(26.4,1.9)(27.4,2.0)(28.4,2.1)(22.0,2.4)(23.0,2.2)(24.0,2.3)(25.0,2.15)(26.0,2.1)(27.0,2.25)(28.0,2.45)(29.0,2.2)(25.2,1.8)(24.2,1.75)(26.8,1.85)(29.6,2.5)(29.8,2.9)
(3.0,3.6)(4.5,3.4)(6.0,3.3)(7.0,3.2)(8.0,3.1)(9.0,3.0)(10.0,3.05)(11.0,2.9)(12.0,2.8)(13.5,2.7)(-1.5,3.8)(0.5,3.6)(2.0,3.5)(14.5,2.5)(16.0,2.4)(17.0,2.2)(19.0,2.1)(20.5,1.8)(22.8,1.75)(21.8,1.6)
(19.0,4.0)(19.5,4.4)(20.0,4.7)(20.4,4.9)(20.8,4.5)(21.2,4.2)(21.6,4.0)(19.8,3.9)(20.6,4.2)(21.0,3.8)(22.0,3.7)(22.5,4.1)(23.0,3.9)(23.5,4.3)(24.0,3.8)(24.5,4.1)(25.0,3.6)(25.5,4.0)(26.0,4.4)(26.5,3.7)(27.0,4.1)(27.5,4.6)(28.0,3.8)(28.5,4.2)(29.0,4.7)(29.5,3.9)(18.0,3.7)(17.0,3.8)(16.5,4.0)(25.2,4.6)(26.8,4.8)(22.3,4.5)
(20.0,7.25)(20.9,7.55)(26.1,7.95)(10.3,5.7)(11.8,5.15)(21.0,5.5)(22.3,5.4)(26.8,5.3)(-7.9,5.95)(-12.0,5.6)(-4.5,5.4)(3.0,4.8)(6.5,4.6)(8.5,4.5)(14.8,4.3)(13.0,4.1)
};
\addplot[fit] coordinates {(-15.8,5.24)(-10,5.02)(-5,4.81)(0,4.57)(5,4.31)(10,4.03)(15,3.73)(20,3.41)(25,3.06)(30,2.70)};
\end{axis}

% ---------------- row 3 ----------------
\begin{axis}[panel, leftcol, bottomrow, at={(65.25pt,-410.5pt)}, anchor=north west, title={CESM1-CAM5}]
\addplot[dots] coordinates {
(-22.0,6.3)(-21.8,6.6)(-21.6,6.9)(-21.4,6.45)(-21.2,6.75)(-21.0,6.2)(-20.8,6.5)(-20.6,6.85)(-20.4,6.35)(-20.2,6.65)(-20.0,6.1)(-19.8,6.45)(-19.6,6.8)(-19.4,6.25)(-19.2,6.55)(-19.0,6.0)(-18.8,6.4)(-18.6,6.7)(-18.4,6.15)(-18.2,6.5)(-18.0,5.95)(-17.8,6.3)(-17.6,6.65)(-17.4,6.05)(-17.2,6.4)(-17.0,5.9)(-16.8,6.2)(-16.6,6.55)(-16.4,6.0)(-16.2,6.3)(-16.0,5.85)(-15.8,6.15)(-15.6,6.45)(-15.4,5.95)(-15.2,6.25)(-15.0,5.8)(-14.8,6.1)(-14.6,6.4)(-14.4,5.9)(-14.2,6.2)(-14.0,5.75)(-13.8,6.05)(-13.6,6.3)(-13.4,5.85)(-13.2,6.1)(-13.0,5.7)(-12.8,5.95)(-12.6,6.2)(-12.4,5.8)(-12.2,6.0)(-12.0,5.65)(-11.8,5.9)
(-21.5,7.0)(-20.5,7.1)(-19.5,7.2)(-18.5,7.0)(-17.5,6.9)(-16.5,6.85)(-15.5,6.75)(-14.5,6.7)(-13.5,6.6)(-12.5,6.5)(-11.0,6.3)(-10.0,6.1)(-9.5,5.7)(-21.7,6.1)(-20.9,5.95)
(-19.5,9.0)(-17.0,8.65)(-16.0,8.7)(-15.0,8.6)(-18.0,8.3)(-17.0,8.1)(-19.0,7.6)(-14.0,7.8)(-13.0,9.0)(-8.0,9.05)(-18.5,8.0)(-16.5,8.4)(-15.5,8.2)(-14.5,8.5)(-19.8,7.4)(-17.8,7.5)(-16.2,7.7)(-15.2,7.3)(-13.5,7.45)(-12.0,7.3)(-11.5,7.0)(-9.0,7.2)(-12.5,7.0)(11.8,8.95)(13.4,8.1)(20.5,7.9)(19.5,6.5)(15.2,7.3)(12.0,6.9)(12.8,6.8)(13.0,6.6)(14.0,6.2)(18.5,6.5)(20.0,6.3)(21.5,6.5)(25.0,7.2)(24.0,5.6)(26.0,4.9)(27.5,4.5)(27.6,4.1)(26.5,4.3)(22.5,5.0)(20.0,5.3)(20.3,5.8)(20.6,5.9)(20.2,5.5)(20.8,5.2)(21.0,4.9)(20.5,4.6)(21.3,4.8)(19.5,5.4)(22.0,4.4)(23.0,4.6)(24.5,4.4)(17.5,4.5)(18.5,5.0)(15.5,5.1)(14.5,4.5)(12.8,4.3)(10.0,4.4)(9.0,4.7)(8.0,5.1)(6.5,5.1)(5.5,5.2)(5.0,4.9)(4.2,5.6)(3.0,4.6)(7.5,5.4)(11.0,5.5)(13.5,5.0)(-2.0,6.0)(-5.0,5.2)(-4.0,7.5)(-7.0,6.3)(-3.5,5.5)
(-18.2,3.9)(-18.0,4.2)(-17.9,4.5)(-17.8,4.8)(-17.7,4.05)(-17.6,4.35)(-17.4,3.8)(-17.2,4.1)(-17.0,4.4)(-16.8,4.7)(-16.6,3.95)(-16.4,4.25)(-16.2,3.75)(-16.0,4.05)(-15.8,4.35)(-15.6,4.6)(-15.4,3.9)(-15.2,4.2)(-15.0,3.7)(-14.8,4.0)(-14.6,4.3)(-14.4,4.55)(-14.2,3.85)(-14.0,4.15)(-13.8,3.6)(-13.6,3.9)(-13.4,4.2)(-13.2,4.5)(-13.0,3.75)(-12.8,4.05)(-12.6,3.55)(-12.4,3.85)(-12.2,4.15)(-12.0,4.45)(-11.8,3.7)(-11.6,4.0)(-11.4,3.5)(-11.2,3.8)(-11.0,4.1)(-10.8,4.4)(-10.6,3.65)(-10.4,3.95)(-10.2,3.4)(-10.0,3.7)(-9.8,4.0)(-9.6,4.3)(-9.4,3.55)(-9.2,3.85)(-9.0,3.35)(-8.8,3.65)(-8.6,3.95)(-8.4,4.25)(-8.2,3.5)(-8.0,3.8)(-7.8,3.3)(-7.6,3.6)(-7.4,3.9)(-7.2,4.2)(-7.0,3.45)(-6.8,3.75)(-6.6,3.2)(-6.4,3.5)(-6.2,3.8)(-6.0,4.1)(-5.8,3.35)(-5.6,3.65)(-5.4,3.1)(-5.2,3.4)(-5.0,3.7)(-4.8,4.0)(-4.6,3.25)(-4.4,3.55)(-4.2,3.0)(-4.0,3.3)(-3.8,3.6)(-3.6,3.9)(-3.4,3.15)(-3.2,3.45)(-3.0,2.95)(-2.8,3.25)(-2.6,3.55)(-2.4,3.85)(-2.2,3.1)(-2.0,3.4)(-1.8,2.9)(-1.6,3.2)(-1.4,3.5)(-1.2,3.8)(-1.0,3.05)(-0.8,3.35)(-0.6,2.85)(-0.4,3.1)(-0.2,3.4)(0.0,3.7)(0.2,3.0)(0.4,3.25)(0.6,2.8)(0.8,3.05)(1.0,3.3)(1.2,3.55)(1.4,2.9)(1.6,3.15)(1.8,2.75)(2.0,3.0)(2.2,3.25)(2.4,3.45)(2.6,2.85)(2.8,3.1)(3.0,2.7)(3.2,2.95)(3.4,3.2)(3.6,3.35)(3.8,2.8)(4.0,3.05)(4.2,2.65)(4.4,2.9)(4.6,3.1)(4.8,3.3)(5.0,2.75)(5.2,3.0)(5.4,2.6)(5.6,2.85)(5.8,3.05)(6.0,3.25)(6.2,2.7)(6.4,2.95)(6.6,2.55)(6.8,2.8)(7.0,3.0)(7.2,3.2)(7.4,2.65)(7.6,2.9)(7.8,2.5)(8.0,2.75)(8.2,2.95)(8.4,3.15)(8.6,2.6)(8.8,2.85)(9.0,2.45)(9.2,2.7)(9.4,2.9)(9.6,3.1)(9.8,2.55)(10.0,2.8)(10.2,2.4)(10.4,2.65)(10.6,2.85)(10.8,3.05)(11.0,2.5)(11.2,2.75)(11.4,2.35)(11.6,2.6)(11.8,2.8)(12.0,3.0)(12.2,2.45)(12.4,2.7)(12.6,2.3)(12.8,2.55)(13.0,2.75)(13.2,2.95)(13.4,2.4)(13.6,2.65)(13.8,2.25)(14.0,2.5)(14.2,2.7)(14.4,2.9)(14.6,2.35)(14.8,2.6)(15.0,2.2)(15.2,2.45)(15.4,2.65)(15.6,2.85)(15.8,2.3)(16.0,2.55)(16.2,2.15)(16.4,2.4)(16.6,2.6)(16.8,2.8)(17.0,2.25)(17.2,2.5)(17.4,2.1)(17.6,2.35)(17.8,2.55)(18.0,2.8)(18.2,2.2)(18.4,2.45)(18.6,2.05)(18.8,2.3)(19.0,2.5)(19.2,2.75)(19.4,2.15)(19.6,2.4)(19.8,2.0)(20.0,2.25)(20.2,2.5)(20.4,2.75)(20.6,2.1)(20.8,2.35)(21.0,1.95)(21.2,2.2)(21.4,2.45)(21.6,2.7)(21.8,2.05)(22.0,2.3)(22.2,1.9)(22.4,2.15)(22.6,2.4)(22.8,2.7)(23.0,2.0)(23.2,2.25)(23.4,1.85)(23.6,2.1)(23.8,2.4)(24.0,2.65)(24.2,1.95)(24.4,2.2)(24.6,1.8)(24.8,2.1)(25.0,2.35)(25.2,2.65)(25.4,1.9)(25.6,2.2)(25.8,1.85)(26.0,2.05)(26.2,2.35)(26.4,2.6)(26.6,1.9)(26.8,2.15)(27.0,1.9)(27.2,2.1)(27.4,2.3)(27.6,2.55)(27.8,1.95)(28.0,2.2)(28.2,2.0)(28.4,2.3)(28.6,2.6)(29.0,2.4)(29.4,2.7)(29.7,2.9)(29.5,2.2)
(-17.1,4.28)(-16.3,4.12)(-15.5,4.15)(-14.7,3.95)(-13.9,4.08)(-13.1,3.88)(-12.3,3.98)(-11.5,3.82)(-10.7,3.85)(-9.9,3.58)(-9.1,3.72)(-8.3,3.62)(-7.5,3.45)(-6.7,3.58)(-5.9,3.42)(-5.1,3.28)(-4.3,3.45)(-3.5,3.32)(-2.7,3.12)(-1.9,3.32)(-1.1,3.22)(-0.3,2.98)(0.5,3.12)(1.3,3.08)(2.1,2.88)(2.9,3.0)(3.7,2.95)(4.5,2.72)(5.3,2.85)(6.1,2.82)(6.9,2.62)(7.7,2.72)(8.5,2.7)(9.3,2.52)(10.1,2.62)(10.9,2.6)(11.7,2.42)(12.5,2.55)(13.3,2.52)(14.1,2.35)(14.9,2.48)(15.7,2.45)(16.5,2.28)(17.3,2.42)(18.1,2.38)(18.9,2.22)(19.7,2.35)(20.5,2.32)(21.3,2.12)(22.1,2.25)(22.9,2.35)(23.7,2.22)(24.5,2.05)(25.3,2.15)(26.1,2.25)(26.9,2.05)(27.7,2.25)(28.3,2.15)(28.8,2.35)(24.1,2.45)(25.9,2.5)(27.3,2.4)(21.9,2.6)(19.1,2.62)(16.3,2.7)(13.5,2.82)(10.7,2.95)(7.9,3.05)(5.1,3.15)(2.3,3.35)(-0.5,3.52)(-3.3,3.72)(-6.1,3.92)(-8.9,4.08)(-11.7,4.25)(-14.5,4.42)(23.1,1.75)(25.1,1.7)(27.1,1.75)(20.3,1.85)
(-16.7,3.85)(-15.9,4.55)(-15.1,3.92)(-14.3,4.15)(-13.5,3.72)(-12.7,4.35)(-11.9,3.62)(-11.1,4.02)(-10.3,3.55)(-9.5,4.12)(-8.7,3.45)(-7.9,3.88)(-7.1,3.28)(-6.3,3.95)(-5.5,3.22)(-4.7,3.75)(-3.9,3.05)(-3.1,3.62)(-2.3,2.98)(-1.5,3.55)(-0.7,2.92)(0.1,3.35)(0.9,2.85)(1.7,3.32)(2.5,2.72)(3.3,3.12)(4.1,2.68)(4.9,3.02)(5.7,2.55)(6.5,2.92)(7.3,2.48)(8.1,2.85)(8.9,2.42)(9.7,2.78)(10.5,2.38)(11.3,2.72)(12.1,2.32)(12.9,2.65)(13.7,2.28)(14.5,2.58)(15.3,2.25)(16.1,2.55)(16.9,2.18)(17.7,2.48)(18.5,2.12)(19.3,2.45)(20.1,2.05)(20.9,2.42)(21.7,1.98)(22.5,2.38)(23.3,1.95)(24.1,2.32)(24.9,1.9)(25.7,2.32)(26.5,1.95)(27.3,2.28)(28.1,1.92)(28.7,2.25)(29.2,2.5)
(-5.0,4.3)(-4.5,4.6)(-4.0,4.2)(-3.5,4.5)(-3.0,4.1)(-2.5,4.4)(-2.0,4.8)(-1.5,4.2)(-1.0,4.6)(-0.5,4.9)(0.0,4.3)(0.3,5.1)(0.6,4.7)(0.9,5.2)(1.2,4.4)(1.5,4.9)(-0.2,4.0)(0.8,4.0)(-6.0,4.5)(-7.5,4.6)(-9.0,4.6)(-10.5,4.7)(-12.0,4.8)(-13.5,4.9)(-15.0,5.0)(-16.5,5.1)(-17.5,5.2)(-1.8,4.5)(-3.2,4.7)(1.8,4.0)(2.6,3.8)(3.5,3.7)(4.5,3.6)(5.5,3.5)(6.5,3.45)(7.5,3.4)(8.5,3.5)(9.5,3.3)(12.5,3.2)(15.5,3.1)(18.5,3.0)(20.5,3.1)(22.5,3.0)(24.5,2.95)(26.5,2.9)(27.5,3.0)(25.5,3.2)
(-0.3,1.6)(0.3,1.4)(0.6,1.2)(-1.8,2.0)(-3.8,2.4)(5.0,1.7)(6.5,1.15)(8.0,1.8)(10.5,1.9)(14.0,1.7)(16.5,1.6)(18.0,1.5)(20.0,1.4)(21.5,1.3)(22.5,1.1)(23.5,1.5)(24.5,1.3)(25.5,1.6)(26.5,1.2)(27.5,1.5)(28.5,1.8)(22.0,1.7)(24.0,1.75)(26.0,1.6)(-12.0,2.9)(-15.5,2.5)
(-17.0,4.6)(-16.0,4.5)(-15.0,4.4)(-14.0,4.3)(-13.0,4.2)(-12.0,4.0)(-11.0,3.9)(-10.0,3.9)(-9.0,3.8)(-8.0,3.6)(-7.0,3.6)(-6.0,3.5)(-5.0,3.4)(-4.0,3.4)(-3.0,3.3)(-2.0,3.2)(-1.0,3.2)(0.0,3.1)(1.0,3.0)(2.0,2.9)(3.0,2.9)(4.0,2.8)(5.0,2.7)(6.0,2.6)(7.0,2.6)(8.0,2.55)(9.0,2.5)(10.0,2.5)(11.0,2.45)(12.0,2.4)(13.0,2.35)(14.0,2.3)(15.0,2.3)(16.0,2.25)(17.0,2.2)(18.0,2.2)(19.0,2.15)(20.0,2.1)(21.0,2.1)(22.0,2.05)(23.0,2.05)(24.0,2.0)(25.0,2.0)(26.0,1.95)(27.0,2.0)(28.0,2.05)(23.5,2.4)(24.5,2.5)(25.5,2.4)(26.5,2.25)(27.5,2.45)(28.5,2.1)(22.5,2.55)(21.5,2.55)(20.5,2.6)
};
\addplot[fit] coordinates {(-22.1,5.68)(-20,5.38)(-15,4.73)(-10,4.15)(-5,3.65)(0,3.23)(5,2.88)(10,2.62)(15,2.42)(20,2.31)(25,2.27)(30,2.31)};
\end{axis}

\begin{axis}[panel, bottomrow, at={(313.3pt,-410.5pt)}, anchor=north west, title={HadGEM2-ES}]
\addplot[dots] coordinates {
(-22.0,3.7)(-21.8,4.2)(-21.6,3.4)(-21.4,4.6)(-21.2,3.2)(-21.0,5.0)(-20.8,3.9)(-20.6,2.9)(-20.4,4.4)(-20.2,3.6)(-20.0,5.2)(-19.8,3.1)(-19.6,4.0)(-19.4,2.6)(-19.2,3.8)(-19.0,4.8)(-18.8,3.3)(-18.6,2.4)(-18.4,4.3)(-18.2,3.5)(-18.0,2.8)(-17.8,4.9)(-17.6,3.7)(-17.4,2.3)(-17.2,4.1)(-17.0,3.4)(-16.8,2.7)(-16.6,4.6)(-16.4,3.6)(-16.2,2.2)(-16.0,3.9)(-15.8,3.2)(-15.6,4.4)(-15.4,2.5)(-15.2,3.5)(-15.0,2.9)(-14.8,3.8)(-14.6,2.4)(-14.4,3.3)(-14.2,4.0)(-14.0,2.7)(-13.8,4.5)(-13.6,3.5)(-13.4,3.9)
(-15.3,2.2)(-15.1,2.5)(-14.9,2.8)(-14.7,3.1)(-14.5,3.4)(-14.3,3.7)(-15.2,3.9)(-14.8,2.3)(-14.6,2.6)(-14.4,2.9)(-15.0,3.2)(-14.2,3.5)(-15.4,2.7)(-14.9,2.0)(-14.5,2.1)
(-21.9,3.6)(-21.5,3.5)(-21.1,3.7)(-20.7,3.5)(-20.3,3.6)(-19.9,3.7)(-19.5,3.5)(-19.1,3.6)(-18.7,3.7)(-18.3,3.5)(-17.9,3.6)(-17.5,3.4)(-17.1,3.7)(-16.7,3.5)(-16.3,3.6)(-15.9,3.7)(-15.5,3.5)(-14.1,3.6)(-21.7,3.3)(-20.5,3.3)(-19.3,3.3)(-18.1,3.2)(-16.9,3.3)(-15.7,3.4)
(-13.2,3.4)(-13.0,3.6)(-12.8,3.8)(-12.6,3.5)(-12.4,3.7)(-12.2,3.35)(-12.0,3.55)(-11.8,3.8)(-11.6,3.45)(-11.4,3.65)(-11.2,3.4)(-11.0,3.6)(-10.8,3.85)(-10.6,3.5)(-10.4,3.7)(-10.2,3.35)(-10.0,3.55)(-9.8,3.8)(-9.6,3.45)(-9.4,3.65)(-9.2,3.4)(-9.0,3.6)(-8.8,3.85)(-8.6,3.5)(-8.4,3.7)(-8.2,3.3)(-8.0,3.55)(-7.8,3.8)(-7.6,3.45)(-7.4,3.65)(-7.2,3.35)(-7.0,3.6)(-6.8,3.9)(-6.6,3.5)(-6.4,3.7)(-6.2,3.3)(-6.0,3.55)(-5.8,3.85)(-5.6,3.45)(-5.4,3.7)(-5.2,3.25)(-5.0,3.5)(-4.8,3.8)(-4.6,3.4)(-4.4,3.65)(-4.2,3.3)(-4.0,3.55)(-3.8,3.9)(-3.6,3.45)(-3.4,3.7)(-3.2,3.25)(-3.0,3.5)(-2.8,3.8)(-2.6,3.4)(-2.4,3.65)(-2.2,3.2)(-2.0,3.5)(-1.8,3.85)(-1.6,3.4)(-1.4,3.65)(-1.2,3.2)(-1.0,3.45)(-0.8,3.8)(-0.6,3.35)(-0.4,3.6)(-0.2,3.15)(0.0,3.45)(0.2,3.8)(0.4,3.3)(0.6,3.6)(0.8,3.1)(1.0,3.4)(1.2,3.75)(1.4,3.25)(1.6,3.55)(1.8,3.05)(2.0,3.35)(2.2,3.7)(2.4,3.2)(2.6,3.55)(2.8,3.0)(3.0,3.3)(3.2,3.7)(3.4,3.15)(3.6,3.5)(3.8,2.95)(4.0,3.3)(4.2,3.65)(4.4,3.1)(4.6,3.45)(4.8,2.9)(5.0,3.25)(5.2,3.65)(5.4,3.05)(5.6,3.45)(5.8,2.85)(6.0,3.2)(6.2,3.6)(6.4,3.0)(6.6,3.4)(6.8,2.8)(7.0,3.15)(7.2,3.6)(7.4,2.95)(7.6,3.35)(7.8,2.75)(8.0,3.1)(8.2,3.55)(8.4,2.9)(8.6,3.3)(8.8,2.7)(9.0,3.05)(9.2,3.5)(9.4,2.85)(9.6,3.25)(9.8,2.65)(10.0,3.0)(10.2,3.45)(10.4,2.8)(10.6,3.2)(10.8,2.6)(11.0,2.95)(11.2,3.4)(11.4,2.75)(11.6,3.15)(11.8,2.55)(12.0,2.9)(12.2,3.35)(12.4,2.7)(12.6,3.1)(12.8,2.5)(13.0,2.85)(13.2,3.3)(13.4,2.65)(13.6,3.05)(13.8,2.45)(14.0,2.8)(14.2,3.25)(14.4,2.6)(14.6,3.0)(14.8,2.4)(15.0,2.75)(15.2,3.2)(15.4,2.55)(15.6,2.95)(15.8,2.3)(16.0,2.7)(16.2,3.15)(16.4,2.5)(16.6,2.9)(16.8,2.25)(17.0,2.65)(17.2,3.1)(17.4,2.45)(17.6,2.85)(17.8,2.2)(18.0,2.6)(18.2,3.05)(18.4,2.4)(18.6,2.8)(18.8,2.1)(19.0,2.5)(19.2,3.0)(19.4,2.3)(19.6,2.75)(19.8,2.0)(20.0,2.45)(20.2,2.95)(20.4,2.25)(20.6,2.7)(20.8,1.95)(21.0,2.4)(21.2,2.9)(21.4,2.2)(21.6,2.65)(21.8,1.9)(22.0,2.35)(22.2,2.85)(22.4,2.1)(22.6,2.6)(22.8,1.8)(23.0,2.3)(23.2,2.8)(23.4,2.05)(23.6,2.55)(23.8,1.75)(24.0,2.25)(24.2,2.75)(24.4,2.0)(24.6,2.5)(24.8,1.7)(25.0,2.2)(25.2,2.7)(25.4,1.95)(25.6,2.45)(25.8,1.6)(26.0,2.1)(26.2,2.65)(26.4,1.9)(26.6,2.4)(26.8,1.55)(27.0,2.05)(27.2,2.6)(27.4,1.85)(27.6,2.35)(27.8,1.5)(28.0,2.0)(28.2,2.55)(28.4,1.8)(28.6,2.3)(28.8,1.6)(29.0,1.95)(29.2,2.5)(29.4,1.75)(29.6,2.2)
(-12.9,3.52)(-11.7,3.62)(-10.5,3.58)(-9.3,3.52)(-8.1,3.62)(-6.9,3.48)(-5.7,3.58)(-4.5,3.52)(-3.3,3.58)(-2.1,3.35)(-0.9,3.52)(0.3,3.38)(1.5,3.45)(2.7,3.28)(3.9,3.48)(5.1,3.15)(6.3,3.32)(7.5,3.08)(8.7,3.2)(9.9,2.92)(11.1,3.12)(12.3,2.85)(13.5,2.95)(14.7,2.72)(15.9,2.88)(17.1,2.55)(18.3,2.75)(19.5,2.42)(20.7,2.55)(21.9,2.25)(23.1,2.45)(24.3,2.15)(25.5,2.32)(26.7,2.05)(27.9,2.25)(29.1,2.05)(29.7,1.9)(20.1,2.15)(22.5,1.95)(24.9,1.82)(26.1,1.62)(27.3,1.62)(28.5,1.55)(21.3,2.72)(23.7,2.62)(26.1,2.52)(28.9,2.42)(0.9,3.62)(3.3,3.58)(5.7,3.52)(8.1,3.42)(10.5,3.35)(12.9,3.22)(15.3,3.08)(17.7,2.95)
(22.1,2.0)(23.1,1.95)(24.1,1.9)(25.1,1.85)(26.1,1.8)(27.1,1.75)(28.1,1.7)(29.1,1.8)(22.7,2.2)(23.7,2.1)(24.7,2.05)(25.7,2.0)(26.7,1.95)(27.7,1.9)(28.7,1.85)(24.3,1.6)(25.3,1.5)(26.3,1.45)(27.3,1.35)(28.3,1.4)(29.3,1.3)(23.3,1.55)(27.9,1.2)(26.9,1.25)(25.9,1.3)
(0.5,3.9)(2.5,3.85)(4.5,3.8)(6.5,3.75)(8.5,3.7)(10.5,3.65)(12.5,3.55)(14.5,3.45)(16.5,3.35)(18.5,3.3)(20.5,3.2)(22.5,3.1)(24.5,3.0)(26.5,2.9)(28.5,2.8)
(19.2,4.35)(19.7,4.3)(20.2,4.28)(20.7,4.25)(21.2,4.22)(21.7,4.2)(22.2,4.18)(22.7,4.15)(23.2,4.12)(23.7,4.1)(24.2,4.07)(24.7,4.05)(25.2,4.0)(25.7,3.98)(26.2,3.95)(26.7,3.9)(27.2,3.88)(27.7,3.85)(28.2,3.8)(28.7,3.78)(29.2,3.75)(19.5,4.5)(20.5,4.45)(21.5,4.1)(22.5,4.35)(23.5,3.95)(24.5,4.25)(25.5,3.85)(26.5,4.1)(27.5,3.7)(28.5,3.95)(19.0,4.1)(20.0,4.6)(29.5,3.6)(21.0,4.4)(23.0,4.3)
(19.4,4.2)(19.9,4.45)(20.4,4.15)(20.9,4.38)(21.4,4.3)(21.9,4.05)(22.4,4.28)(22.9,4.0)(23.4,4.22)(23.9,3.95)(24.4,4.18)(24.9,3.92)(25.4,4.1)(25.9,3.85)(26.4,4.02)(26.9,3.78)(27.4,3.98)(27.9,3.72)(28.4,3.9)(28.9,3.65)(29.4,3.85)(20.1,4.52)(22.1,4.42)(24.1,3.85)(26.1,3.75)(28.1,3.62)
(-18.4,6.5)(5.4,6.35)(13.6,6.3)(25.2,5.45)(19.4,5.15)(-3.0,4.8)(6.0,4.7)(5.0,4.6)(-2.5,4.4)(-6.0,4.3)(-8.0,4.4)(-10.0,4.1)(-12.5,2.9)(-12.0,2.4)(-8.5,1.9)(-13.0,1.7)(-16.0,2.0)(-18.0,2.2)(0.0,2.8)(2.0,2.6)(-4.0,3.0)(8.5,4.2)(10.0,4.5)(12.0,4.3)(15.0,4.0)(17.0,4.2)(28.0,4.6)(1.0,4.2)(-1.0,4.5)(-20.5,5.4)(-19.0,5.1)(-17.5,5.0)(-16.0,4.9)
};
\addplot[fit] coordinates {(-22.1,3.54)(-20,3.56)(-15,3.57)(-10,3.56)(-5,3.52)(0,3.44)(5,3.33)(10,3.19)(15,3.03)(20,2.82)(25,2.59)(30,2.33)};
\end{axis}

\begin{axis}[panel, bottomrow, at={(561.5pt,-410.5pt)}, anchor=north west, title={NorESM1-M}]
\addplot[dots] coordinates {
(-21.0,6.7)(-20.8,6.9)(-20.6,6.5)(-20.4,6.75)(-20.2,6.3)(-20.0,6.6)(-19.8,6.85)(-19.6,6.4)(-19.4,6.7)(-19.2,6.2)(-19.0,6.55)(-18.8,6.8)(-18.6,6.3)(-18.4,6.6)(-18.2,6.1)(-18.0,6.45)(-17.8,6.75)(-17.6,6.2)(-17.4,6.5)(-17.2,6.0)(-17.0,6.35)(-16.8,6.65)(-16.6,6.1)(-16.4,6.4)(-16.2,5.9)(-16.0,6.25)(-15.8,6.55)(-15.6,6.0)(-15.4,6.3)(-15.2,5.85)(-15.0,6.15)(-14.8,6.45)(-14.6,5.95)(-14.4,6.2)(-14.2,5.8)(-14.0,6.1)(-13.8,6.35)(-13.6,5.85)(-13.4,6.05)(-13.2,5.75)(-13.0,6.25)(-12.8,5.9)(-12.6,5.7)(-12.4,6.0)(-12.2,5.6)(-12.0,5.8)(-17.0,6.95)(-16.4,6.9)(-15.3,6.7)(-14.5,6.6)(-18.5,7.0)
(-11.5,5.6)(-11.0,5.3)(-10.5,5.7)(-10.0,5.0)(-9.5,5.5)(-9.0,4.8)(-8.5,5.2)(-8.0,4.6)(-7.5,5.4)(-7.0,4.5)(-6.5,5.0)(-6.0,4.4)(-5.5,5.3)(-5.0,4.3)(-4.5,4.8)(-4.0,4.2)(-3.5,4.6)(-3.0,4.1)(-2.5,4.5)(-2.0,4.0)(-1.5,4.4)(-1.0,3.9)(-0.5,4.3)(0.0,4.7)(0.5,4.1)(1.0,4.5)(-11.8,4.9)(-12.5,5.2)(-9.8,4.6)(-8.3,6.0)(-7.2,5.9)(-5.2,5.7)(-3.8,5.0)(-2.2,4.9)(-0.8,4.6)
(-18.5,4.4)(-18.3,4.7)(-18.1,5.0)(-17.9,4.2)(-17.7,4.5)(-17.5,4.85)(-17.3,4.1)(-17.1,4.4)(-16.9,4.7)(-16.7,4.0)(-16.5,4.3)(-16.3,4.6)(-16.1,4.05)(-15.9,4.35)(-15.7,4.7)(-15.5,4.0)(-15.3,4.3)
(-15.1,4.5)(-14.9,3.95)(-14.7,4.2)(-14.5,4.45)(-14.3,3.9)(-14.1,4.15)(-13.9,4.4)(-13.7,3.85)(-13.5,4.1)(-13.3,4.35)(-13.1,3.8)(-12.9,4.05)(-12.7,4.3)(-12.5,3.75)(-12.3,4.0)(-12.1,4.25)(-11.9,3.7)(-11.7,3.95)(-11.5,4.2)(-11.3,3.65)(-11.1,3.9)(-10.9,4.15)(-10.7,3.6)(-10.5,3.85)(-10.3,4.1)(-10.1,3.55)(-9.9,3.8)(-9.7,4.05)(-9.5,3.5)(-9.3,3.75)(-9.1,4.0)(-8.9,3.45)(-8.7,3.7)(-8.5,3.95)(-8.3,3.4)(-8.1,3.65)(-7.9,3.9)(-7.7,3.35)(-7.5,3.6)(-7.3,3.85)(-7.1,3.3)(-6.9,3.55)(-6.7,3.8)(-6.5,3.25)(-6.3,3.5)(-6.1,3.75)(-5.9,3.2)(-5.7,3.45)(-5.5,3.7)(-5.3,3.15)(-5.1,3.4)(-4.9,3.65)(-4.7,3.1)(-4.5,3.35)(-4.3,3.6)(-4.1,3.05)(-3.9,3.3)(-3.7,3.55)(-3.5,3.0)(-3.3,3.25)(-3.1,3.5)(-2.9,2.95)(-2.7,3.2)(-2.5,3.45)(-2.3,2.9)(-2.1,3.15)(-1.9,3.4)(-1.7,2.85)(-1.5,3.1)(-1.3,3.35)(-1.1,2.8)(-0.9,3.05)(-0.7,3.3)(-0.5,2.75)(-0.3,3.0)(-0.1,3.25)(0.1,2.7)(0.3,2.95)(0.5,3.2)(0.7,2.65)(0.9,2.9)(1.1,3.15)(1.3,2.6)(1.5,2.85)(1.7,3.1)(1.9,2.55)(2.1,2.8)(2.3,3.05)(2.5,2.5)(2.7,2.75)(2.9,3.0)(3.1,2.5)(3.3,2.7)(3.5,2.95)(3.7,2.45)(3.9,2.65)(4.1,2.9)(4.3,2.4)(4.5,2.6)(4.7,2.85)(4.9,2.35)(5.1,2.6)(5.3,2.8)(5.5,2.35)(5.7,2.55)(5.9,2.75)(6.1,2.3)(6.3,2.5)(6.5,2.7)(6.7,2.25)(6.9,2.5)(7.1,2.7)(7.3,2.25)(7.5,2.45)(7.7,2.65)(7.9,2.2)(8.1,2.45)(8.3,2.65)(8.5,2.2)(8.7,2.4)(8.9,2.6)(9.1,2.15)(9.3,2.4)(9.5,2.65)(9.7,2.15)(9.9,2.35)(10.1,2.6)(10.3,2.1)(10.5,2.35)(10.7,2.6)(10.9,2.15)(11.1,2.4)(11.3,2.65)(11.5,2.1)(11.7,2.35)(11.9,2.6)(12.1,2.1)(12.3,2.4)(12.5,2.7)(12.7,2.15)(12.9,2.4)(13.1,2.65)(13.3,2.1)(13.5,2.35)(13.7,2.7)(13.9,2.15)(14.1,2.4)(14.3,2.65)(14.5,2.1)(14.7,2.35)(14.9,2.75)(15.1,2.1)(15.3,2.4)(15.5,2.65)(15.7,2.05)(15.9,2.35)(16.1,2.7)(16.3,2.05)(16.5,2.4)(16.7,2.65)(16.9,2.0)(17.1,2.35)(17.3,2.75)(17.5,2.0)(17.7,2.35)(17.9,2.7)(18.1,1.95)(18.3,2.3)(18.5,2.75)(18.7,2.0)(18.9,2.35)(19.1,2.6)(19.3,1.9)(19.5,2.3)(19.7,2.7)(19.9,2.0)(20.1,2.4)(20.3,2.65)(20.5,1.95)(20.7,2.3)(20.9,2.75)(21.1,2.0)(21.3,2.4)(21.5,2.6)(21.7,1.9)(21.9,2.3)(22.1,2.7)(22.3,2.0)(22.5,2.35)(22.7,2.6)(22.9,1.95)(23.1,2.3)(23.3,2.75)(23.5,2.05)(23.7,2.4)(23.9,2.6)(24.1,1.9)(24.3,2.3)(24.5,2.8)(24.7,2.0)(24.9,2.35)(25.1,2.6)(25.3,1.85)(25.5,2.25)(25.7,2.7)(25.9,1.95)(26.1,2.4)(26.3,2.65)(26.5,1.9)(26.7,2.2)(26.9,2.75)(27.1,2.0)(27.3,2.4)(27.5,2.6)(27.7,1.85)(27.9,2.3)(28.1,2.7)(28.3,2.05)(28.5,2.5)(29.0,2.4)(29.5,2.6)(29.8,2.3)
(-16.2,4.48)(-15.4,4.55)(-14.6,4.02)(-13.8,4.25)(-13.0,3.95)(-12.2,4.12)(-11.4,3.82)(-10.6,3.98)(-9.8,3.62)(-9.0,3.85)(-8.2,3.52)(-7.4,3.72)(-6.6,3.42)(-5.8,3.58)(-5.0,3.28)(-4.2,3.45)(-3.4,3.12)(-2.6,3.32)(-1.8,3.02)(-1.0,3.18)(-0.2,2.88)(0.6,3.05)(1.4,2.72)(2.2,2.92)(3.0,2.62)(3.8,2.78)(4.6,2.52)(5.4,2.68)(6.2,2.42)(7.0,2.6)(7.8,2.35)(8.6,2.55)(9.4,2.28)(10.2,2.48)(11.0,2.28)(11.8,2.48)(12.6,2.25)(13.4,2.52)(14.2,2.25)(15.0,2.5)(15.8,2.22)(16.6,2.52)(17.4,2.18)(18.2,2.55)(19.0,2.15)(19.8,2.52)(20.6,2.12)(21.4,2.45)(22.2,2.15)(23.0,2.55)(23.8,2.1)(24.6,2.5)(25.4,2.02)(26.2,2.52)(27.0,2.12)(27.8,2.6)(28.6,2.25)(22.6,1.85)(24.2,1.72)(25.8,1.75)(27.4,1.8)(-14.2,4.62)(-11.8,4.42)(-9.4,4.22)(-7.0,3.92)(-4.6,3.78)(-2.2,3.58)(0.2,3.38)(2.6,3.18)(5.0,2.95)(7.4,2.85)(9.8,2.72)(12.2,2.75)(14.6,2.8)(17.0,2.82)(19.4,2.85)(21.8,2.78)(24.2,2.85)(26.6,2.82)
(20.2,2.25)(21.2,2.55)(22.2,2.3)(23.2,2.6)(24.2,2.4)(25.2,2.3)(26.2,2.15)(27.2,2.55)(28.2,2.35)(25.6,2.55)(26.9,2.35)(24.7,2.2)(23.6,2.25)(22.7,2.2)
(21.4,2.2)(22.4,2.15)(23.4,2.2)(24.4,2.15)(25.4,2.1)(26.4,2.05)(27.4,2.15)(21.8,2.5)(22.8,2.45)(23.8,2.5)(24.8,2.45)(25.8,2.4)(26.8,2.5)(27.8,2.45)(24.0,1.8)(25.0,1.75)(26.0,1.8)(27.0,1.7)(23.0,1.85)
(11.0,7.4)(21.6,8.75)(20.4,8.0)(24.6,6.15)(8.1,5.0)(19.0,4.7)(19.5,5.4)(18.8,4.2)(20.2,4.0)(22.8,4.8)(23.8,5.2)(25.6,4.6)(26.5,4.2)(27.5,5.0)(28.3,4.6)(29.2,4.9)(17.0,3.6)(15.5,3.4)(13.0,3.3)(10.5,3.1)(9.0,3.4)(7.0,3.3)(5.5,3.6)(3.0,3.7)(24.5,3.3)(27.0,3.4)(28.8,3.2)(22.0,3.0)(19.8,3.1)(26.0,3.0)(28.5,3.0)(12.0,2.95)(16.0,3.0)
(-17.4,8.85)(-12.4,9.15)(-11.4,8.6)(-11.8,8.15)(-10.6,7.9)(-7.7,7.5)(-7.3,7.65)(-7.3,6.95)(-5.5,8.7)(-15.5,7.3)(-14.0,7.1)(-12.0,6.9)(-9.5,6.4)(-8.0,6.7)(-6.0,6.2)(-4.5,6.0)(-3.5,5.6)(-2.0,5.4)(-13.3,7.6)
(10.5,1.6)(20.0,1.4)(20.8,1.2)(22.5,1.5)(18.0,1.7)(14.0,1.8)(25.5,1.55)(27.5,1.45)(29.5,1.2)(-9.0,2.9)(-5.0,2.6)(0.0,2.3)(3.0,2.1)(6.0,2.0)
};
\addplot[fit] coordinates {(-20.7,6.32)(-15,5.36)(-10,4.62)(-5,3.99)(0,3.46)(5,3.03)(10,2.70)(15,2.48)(20,2.35)(25,2.33)(30,2.41)};
\end{axis}

\pgfresetboundingbox
\path[use as bounding box] (0pt,0pt) rectangle (765pt,-615.75pt);
\end{tikzpicture}
\end{document}
